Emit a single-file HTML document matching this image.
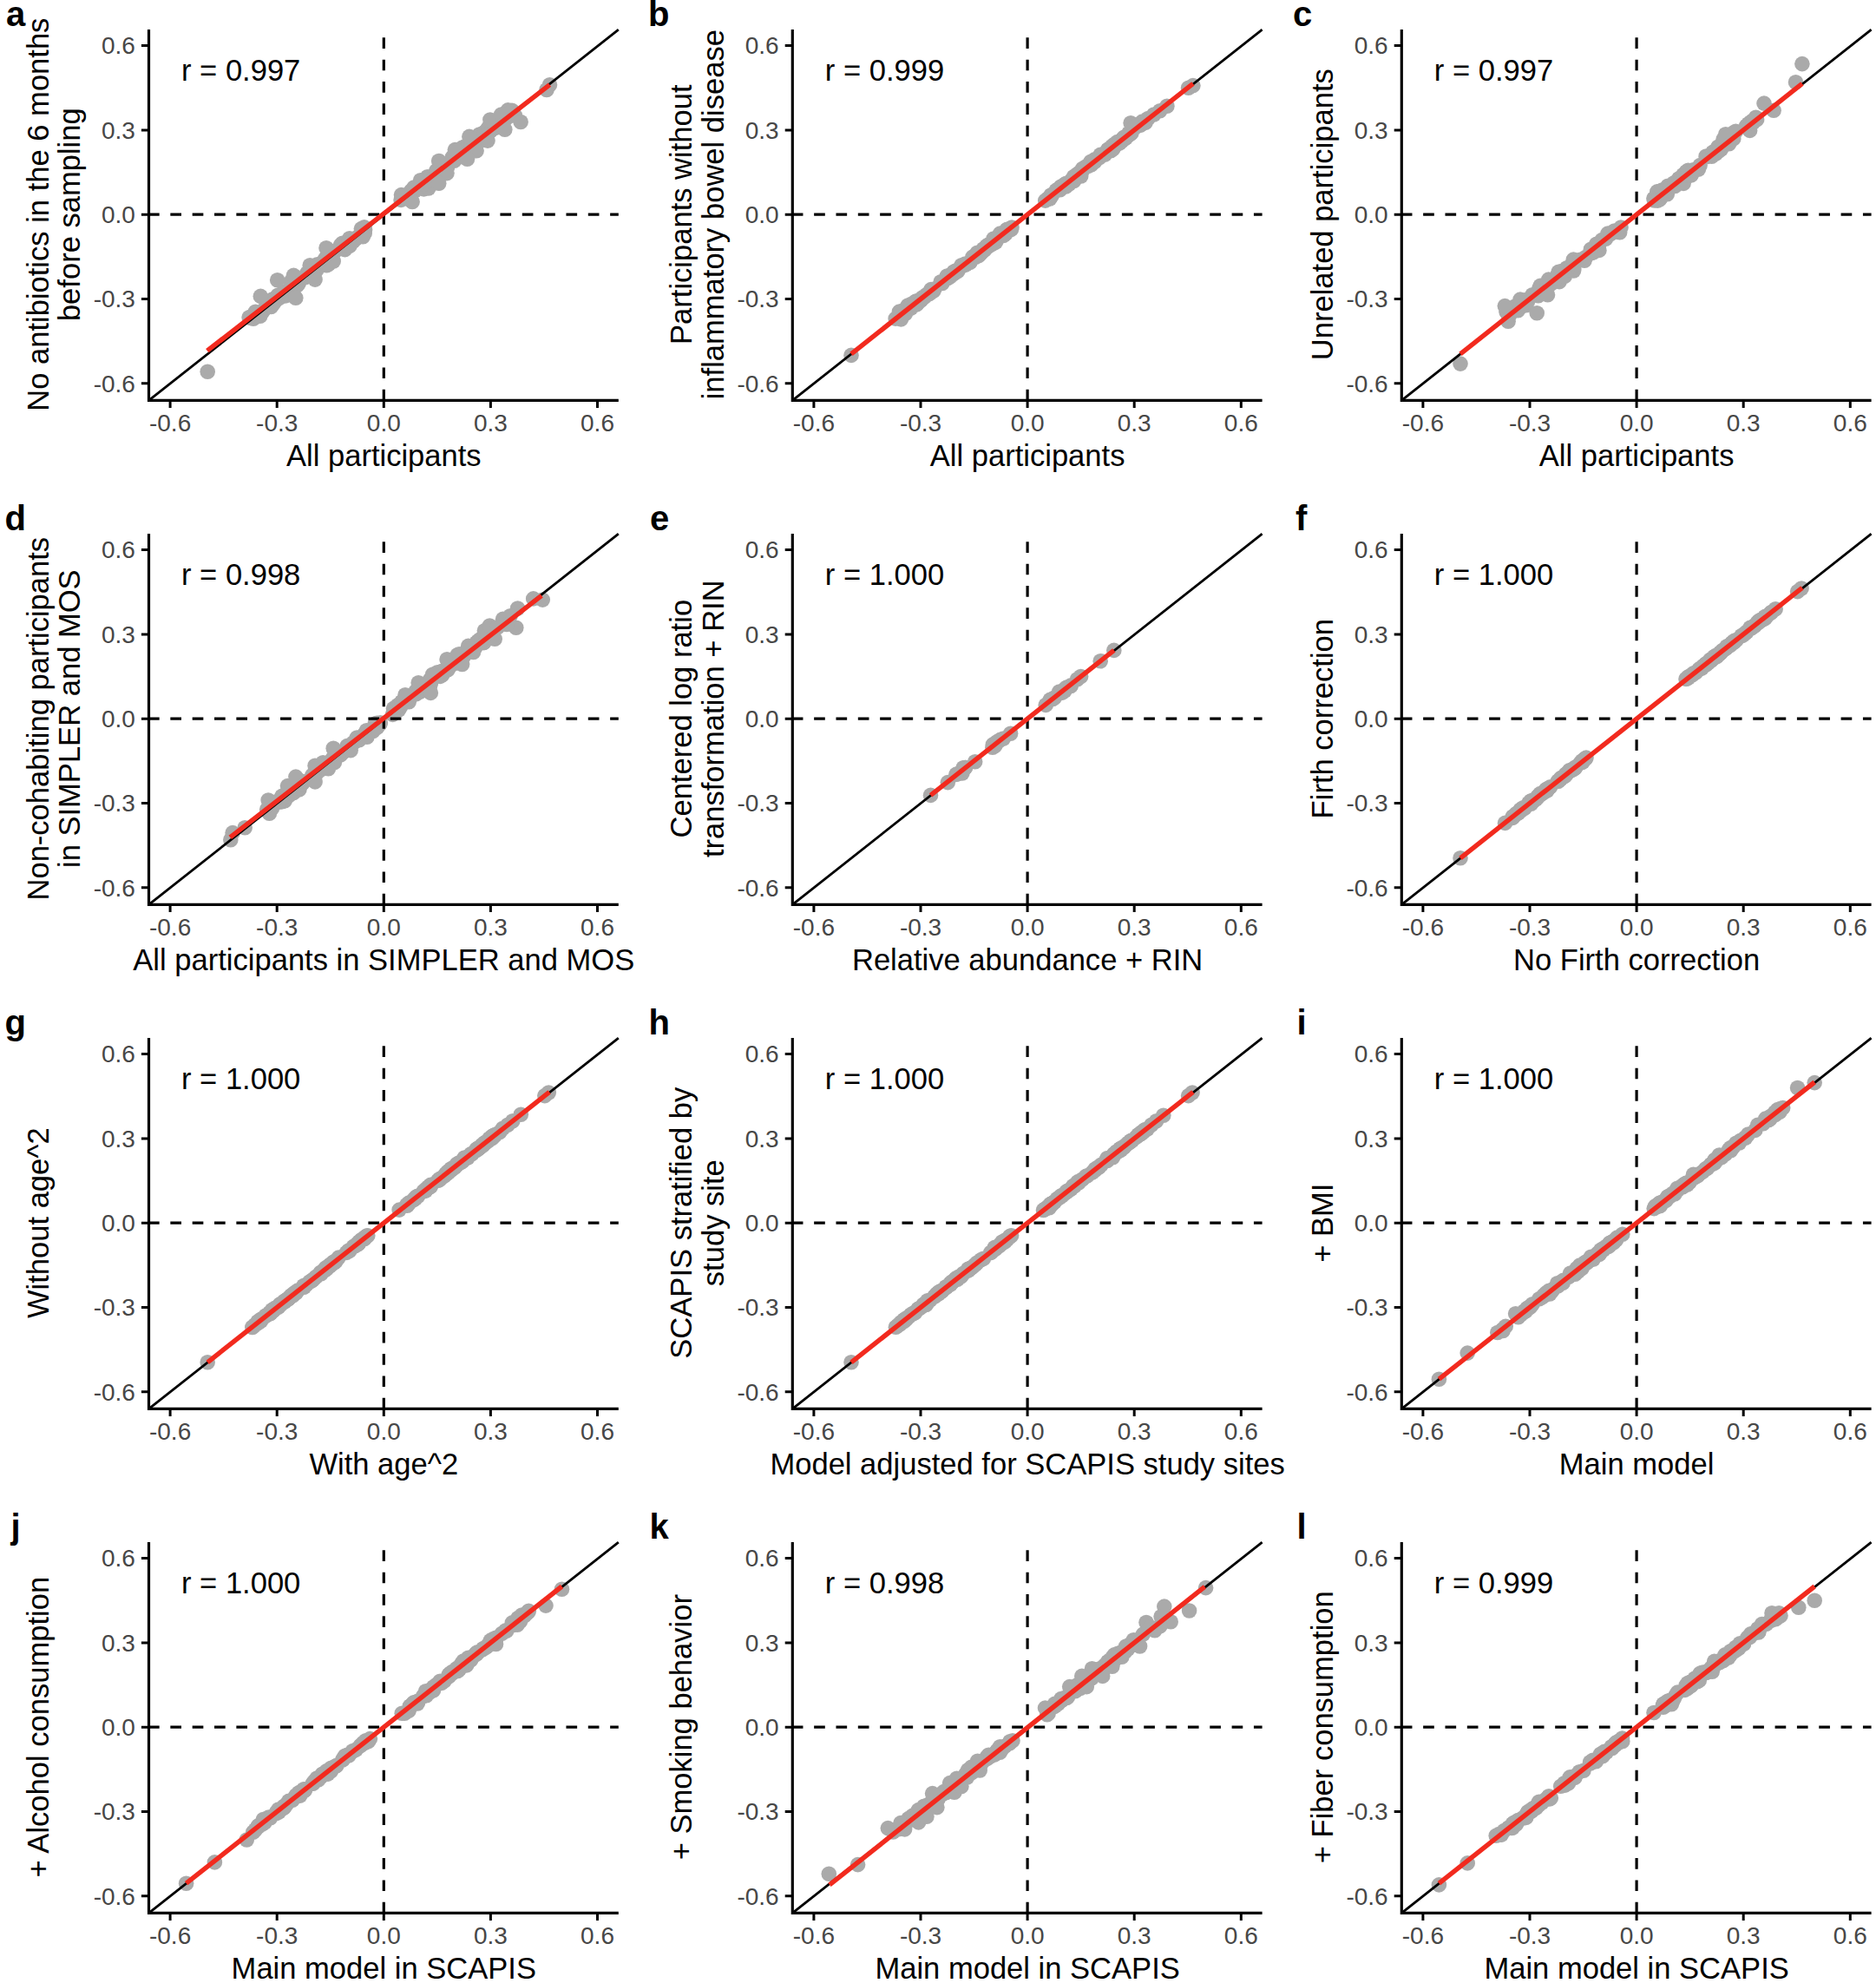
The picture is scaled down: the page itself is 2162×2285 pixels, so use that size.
<!DOCTYPE html>
<html lang="en">
<head>
<meta charset="utf-8">
<title>Sensitivity analyses scatter plots</title>
<style>
html,body{margin:0;padding:0;background:#fff;}
body{width:2162px;height:2285px;overflow:hidden;}
svg{display:block;font-family:"Liberation Sans",sans-serif;}
.lt{font-size:40px;font-weight:bold;fill:#000;}
.tt{font-size:34.55px;fill:#000;}
.tl{font-size:28px;fill:#474747;}
.dg{stroke:#000;stroke-width:2.8;}
.ds{stroke:#000;stroke-width:3.2;stroke-dasharray:12.67 12.67;}
.pt circle{fill:#aaa;}
.rd{stroke:#f22a1e;stroke-width:5.5;}
.ax{fill:none;stroke:#000;stroke-width:3.2;stroke-linejoin:miter;stroke-linecap:butt;}
.tk{fill:none;stroke:#000;stroke-width:3;}
</style>
</head>
<body>
<svg width="2162" height="2285" viewBox="0 0 2162 2285">
<rect width="100%" height="100%" fill="#fff"/>
<g class="panel">
<text class="lt" x="7.0" y="29.6">a</text>
<g class="pt"><circle cx="287.1" cy="365.8" r="8.8"/><circle cx="288.9" cy="366.2" r="8.8"/><circle cx="291.9" cy="367.2" r="8.8"/><circle cx="295.1" cy="364.7" r="8.8"/><circle cx="296.0" cy="363.7" r="8.8"/><circle cx="294.4" cy="359.2" r="8.8"/><circle cx="302.6" cy="359.0" r="8.8"/><circle cx="303.1" cy="358.3" r="8.8"/><circle cx="306.3" cy="353.6" r="8.8"/><circle cx="309.8" cy="352.4" r="8.8"/><circle cx="310.0" cy="352.4" r="8.8"/><circle cx="312.4" cy="353.5" r="8.8"/><circle cx="310.9" cy="351.2" r="8.8"/><circle cx="316.0" cy="348.5" r="8.8"/><circle cx="313.8" cy="345.0" r="8.8"/><circle cx="316.7" cy="344.4" r="8.8"/><circle cx="318.2" cy="345.4" r="8.8"/><circle cx="318.1" cy="343.3" r="8.8"/><circle cx="322.0" cy="343.4" r="8.8"/><circle cx="320.2" cy="340.3" r="8.8"/><circle cx="323.4" cy="341.3" r="8.8"/><circle cx="323.8" cy="339.0" r="8.8"/><circle cx="329.1" cy="340.9" r="8.8"/><circle cx="328.6" cy="336.0" r="8.8"/><circle cx="332.8" cy="339.2" r="8.8"/><circle cx="333.9" cy="339.5" r="8.8"/><circle cx="333.0" cy="334.6" r="8.8"/><circle cx="339.2" cy="331.6" r="8.8"/><circle cx="338.2" cy="329.0" r="8.8"/><circle cx="335.2" cy="324.6" r="8.8"/><circle cx="342.6" cy="328.7" r="8.8"/><circle cx="344.1" cy="326.8" r="8.8"/><circle cx="347.4" cy="321.5" r="8.8"/><circle cx="347.5" cy="320.6" r="8.8"/><circle cx="351.6" cy="319.5" r="8.8"/><circle cx="351.9" cy="319.3" r="8.8"/><circle cx="353.9" cy="314.8" r="8.8"/><circle cx="355.3" cy="314.3" r="8.8"/><circle cx="358.9" cy="316.5" r="8.8"/><circle cx="357.2" cy="314.8" r="8.8"/><circle cx="357.5" cy="314.1" r="8.8"/><circle cx="359.9" cy="315.8" r="8.8"/><circle cx="360.6" cy="310.9" r="8.8"/><circle cx="364.6" cy="311.5" r="8.8"/><circle cx="365.6" cy="304.7" r="8.8"/><circle cx="368.3" cy="305.1" r="8.8"/><circle cx="369.4" cy="304.5" r="8.8"/><circle cx="371.8" cy="304.9" r="8.8"/><circle cx="372.1" cy="303.1" r="8.8"/><circle cx="376.4" cy="305.8" r="8.8"/><circle cx="375.1" cy="304.0" r="8.8"/><circle cx="373.2" cy="300.6" r="8.8"/><circle cx="378.6" cy="304.5" r="8.8"/><circle cx="375.4" cy="297.3" r="8.8"/><circle cx="382.0" cy="300.5" r="8.8"/><circle cx="377.5" cy="296.0" r="8.8"/><circle cx="382.8" cy="297.0" r="8.8"/><circle cx="386.1" cy="289.1" r="8.8"/><circle cx="391.9" cy="286.6" r="8.8"/><circle cx="397.5" cy="287.6" r="8.8"/><circle cx="392.4" cy="282.6" r="8.8"/><circle cx="394.6" cy="280.3" r="8.8"/><circle cx="398.3" cy="282.2" r="8.8"/><circle cx="399.9" cy="281.6" r="8.8"/><circle cx="401.9" cy="279.6" r="8.8"/><circle cx="406.8" cy="278.4" r="8.8"/><circle cx="402.8" cy="274.8" r="8.8"/><circle cx="406.3" cy="277.5" r="8.8"/><circle cx="406.1" cy="276.0" r="8.8"/><circle cx="409.8" cy="275.4" r="8.8"/><circle cx="412.1" cy="273.1" r="8.8"/><circle cx="420.2" cy="268.9" r="8.8"/><circle cx="416.4" cy="263.6" r="8.8"/><circle cx="420.6" cy="264.8" r="8.8"/><circle cx="419.8" cy="261.9" r="8.8"/><circle cx="462.1" cy="230.4" r="8.8"/><circle cx="464.8" cy="228.3" r="8.8"/><circle cx="462.5" cy="224.6" r="8.8"/><circle cx="470.6" cy="229.3" r="8.8"/><circle cx="466.0" cy="225.5" r="8.8"/><circle cx="468.9" cy="226.4" r="8.8"/><circle cx="469.3" cy="225.9" r="8.8"/><circle cx="472.2" cy="228.2" r="8.8"/><circle cx="471.6" cy="225.5" r="8.8"/><circle cx="473.5" cy="220.1" r="8.8"/><circle cx="477.3" cy="219.8" r="8.8"/><circle cx="477.0" cy="219.5" r="8.8"/><circle cx="477.8" cy="220.1" r="8.8"/><circle cx="476.9" cy="216.1" r="8.8"/><circle cx="483.4" cy="214.8" r="8.8"/><circle cx="488.4" cy="217.9" r="8.8"/><circle cx="487.6" cy="213.6" r="8.8"/><circle cx="490.7" cy="215.3" r="8.8"/><circle cx="493.8" cy="217.0" r="8.8"/><circle cx="489.0" cy="212.0" r="8.8"/><circle cx="485.9" cy="208.4" r="8.8"/><circle cx="489.8" cy="209.5" r="8.8"/><circle cx="496.8" cy="207.9" r="8.8"/><circle cx="496.7" cy="207.3" r="8.8"/><circle cx="492.6" cy="203.7" r="8.8"/><circle cx="501.5" cy="199.9" r="8.8"/><circle cx="502.2" cy="199.7" r="8.8"/><circle cx="502.8" cy="199.5" r="8.8"/><circle cx="503.2" cy="198.9" r="8.8"/><circle cx="502.8" cy="196.8" r="8.8"/><circle cx="504.0" cy="196.6" r="8.8"/><circle cx="505.4" cy="196.6" r="8.8"/><circle cx="515.6" cy="192.6" r="8.8"/><circle cx="514.1" cy="188.8" r="8.8"/><circle cx="523.5" cy="185.2" r="8.8"/><circle cx="521.5" cy="181.0" r="8.8"/><circle cx="532.0" cy="180.4" r="8.8"/><circle cx="531.6" cy="177.1" r="8.8"/><circle cx="535.0" cy="174.0" r="8.8"/><circle cx="538.5" cy="175.4" r="8.8"/><circle cx="532.3" cy="170.4" r="8.8"/><circle cx="534.9" cy="169.2" r="8.8"/><circle cx="539.4" cy="171.9" r="8.8"/><circle cx="538.0" cy="169.0" r="8.8"/><circle cx="539.5" cy="169.1" r="8.8"/><circle cx="545.9" cy="173.8" r="8.8"/><circle cx="542.0" cy="167.6" r="8.8"/><circle cx="542.8" cy="167.9" r="8.8"/><circle cx="542.7" cy="167.5" r="8.8"/><circle cx="545.4" cy="169.2" r="8.8"/><circle cx="544.2" cy="167.5" r="8.8"/><circle cx="544.4" cy="167.0" r="8.8"/><circle cx="544.1" cy="162.9" r="8.8"/><circle cx="546.0" cy="164.1" r="8.8"/><circle cx="546.9" cy="164.5" r="8.8"/><circle cx="545.7" cy="160.5" r="8.8"/><circle cx="550.2" cy="163.7" r="8.8"/><circle cx="554.8" cy="159.5" r="8.8"/><circle cx="558.4" cy="161.3" r="8.8"/><circle cx="552.4" cy="155.0" r="8.8"/><circle cx="558.0" cy="152.6" r="8.8"/><circle cx="558.5" cy="152.4" r="8.8"/><circle cx="562.8" cy="149.7" r="8.8"/><circle cx="564.0" cy="150.6" r="8.8"/><circle cx="564.3" cy="150.0" r="8.8"/><circle cx="565.3" cy="150.7" r="8.8"/><circle cx="565.4" cy="150.5" r="8.8"/><circle cx="565.2" cy="149.8" r="8.8"/><circle cx="562.9" cy="146.9" r="8.8"/><circle cx="565.4" cy="148.1" r="8.8"/><circle cx="567.7" cy="148.2" r="8.8"/><circle cx="570.9" cy="147.4" r="8.8"/><circle cx="572.7" cy="146.1" r="8.8"/><circle cx="569.3" cy="141.6" r="8.8"/><circle cx="572.1" cy="142.9" r="8.8"/><circle cx="574.3" cy="142.6" r="8.8"/><circle cx="575.8" cy="142.8" r="8.8"/><circle cx="578.7" cy="143.0" r="8.8"/><circle cx="579.1" cy="139.2" r="8.8"/><circle cx="577.5" cy="137.5" r="8.8"/><circle cx="580.1" cy="139.5" r="8.8"/><circle cx="582.6" cy="137.0" r="8.8"/><circle cx="585.4" cy="134.8" r="8.8"/><circle cx="584.9" cy="134.1" r="8.8"/><circle cx="593.3" cy="133.0" r="8.8"/><circle cx="239.2" cy="428.2" r="8.8"/><circle cx="633.5" cy="97.7" r="8.8"/><circle cx="630.0" cy="103.5" r="8.8"/><circle cx="600.1" cy="140.5" r="8.8"/><circle cx="564.9" cy="138.0" r="8.8"/><circle cx="585.4" cy="126.9" r="8.8"/><circle cx="581.8" cy="149.2" r="8.8"/><circle cx="562.0" cy="162.1" r="8.8"/><circle cx="540.9" cy="157.4" r="8.8"/><circle cx="549.1" cy="173.8" r="8.8"/><circle cx="524.4" cy="172.6" r="8.8"/><circle cx="505.7" cy="185.5" r="8.8"/><circle cx="538.5" cy="183.2" r="8.8"/><circle cx="515.0" cy="199.6" r="8.8"/><circle cx="505.7" cy="211.3" r="8.8"/><circle cx="484.6" cy="207.8" r="8.8"/><circle cx="475.1" cy="232.5" r="8.8"/><circle cx="463.5" cy="226.6" r="8.8"/><circle cx="577.7" cy="132.0" r="8.8"/><circle cx="590.0" cy="127.2" r="8.8"/><circle cx="300.3" cy="341.4" r="8.8"/><circle cx="319.7" cy="322.7" r="8.8"/><circle cx="338.4" cy="317.4" r="8.8"/><circle cx="340.8" cy="343.2" r="8.8"/><circle cx="376.0" cy="285.7" r="8.8"/><circle cx="363.1" cy="322.1" r="8.8"/><circle cx="384.2" cy="301.0" r="8.8"/><circle cx="402.9" cy="283.4" r="8.8"/><circle cx="419.4" cy="263.5" r="8.8"/><circle cx="418.2" cy="272.8" r="8.8"/><circle cx="290.4" cy="364.3" r="8.8"/><circle cx="299.7" cy="364.3" r="8.8"/><circle cx="313.9" cy="351.4" r="8.8"/><circle cx="357.2" cy="305.7" r="8.8"/></g>
<line class="dg" x1="171.5" y1="461.4" x2="712.8" y2="34.1"/>
<line class="ds" x1="171.0" y1="247.2" x2="712.8" y2="247.2"/>
<line class="ds" x1="442.3" y1="461.4" x2="442.3" y2="34.1"/>
<line class="rd" x1="238.8" y1="404.2" x2="633.5" y2="97.7"/>
<path class="ax" d="M171.5 34.1V461.4H712.8"/>
<path class="tk" d="M196.1 461.4v8.6M171.5 441.8h-8.6M319.2 461.4v8.6M171.5 344.5h-8.6M442.3 461.4v8.6M171.5 247.2h-8.6M565.4 461.4v8.6M171.5 149.9h-8.6M688.5 461.4v8.6M171.5 52.6h-8.6"/>
<text class="tl" text-anchor="middle" x="196.1" y="497.0">-0.6</text>
<text class="tl" text-anchor="end" x="155.9" y="451.6">-0.6</text>
<text class="tl" text-anchor="middle" x="319.2" y="497.0">-0.3</text>
<text class="tl" text-anchor="end" x="155.9" y="354.3">-0.3</text>
<text class="tl" text-anchor="middle" x="442.3" y="497.0">0.0</text>
<text class="tl" text-anchor="end" x="155.9" y="257.0">0.0</text>
<text class="tl" text-anchor="middle" x="565.4" y="497.0">0.3</text>
<text class="tl" text-anchor="end" x="155.9" y="159.7">0.3</text>
<text class="tl" text-anchor="middle" x="688.5" y="497.0">0.6</text>
<text class="tl" text-anchor="end" x="155.9" y="62.4">0.6</text>
<text class="tt" x="209.0" y="93.4">r = 0.997</text>
<text class="tt" text-anchor="middle" x="442.3" y="536.8">All participants</text>
<text class="tt" text-anchor="middle" transform="translate(55.5 247.2) rotate(-90)">No antibiotics in the 6 months</text>
<text class="tt" text-anchor="middle" transform="translate(92.0 247.2) rotate(-90)">before sampling</text>
</g>
<g class="panel">
<text class="lt" x="747.0" y="29.6">b</text>
<g class="pt"><circle cx="1032.1" cy="367.1" r="8.8"/><circle cx="1037.9" cy="364.7" r="8.8"/><circle cx="1038.6" cy="363.7" r="8.8"/><circle cx="1039.0" cy="360.6" r="8.8"/><circle cx="1040.7" cy="359.9" r="8.8"/><circle cx="1043.3" cy="361.6" r="8.8"/><circle cx="1043.1" cy="356.5" r="8.8"/><circle cx="1043.9" cy="357.1" r="8.8"/><circle cx="1046.0" cy="354.2" r="8.8"/><circle cx="1048.3" cy="355.2" r="8.8"/><circle cx="1049.0" cy="354.5" r="8.8"/><circle cx="1049.9" cy="355.1" r="8.8"/><circle cx="1046.3" cy="352.0" r="8.8"/><circle cx="1050.6" cy="353.0" r="8.8"/><circle cx="1050.4" cy="350.3" r="8.8"/><circle cx="1053.6" cy="351.4" r="8.8"/><circle cx="1054.2" cy="349.6" r="8.8"/><circle cx="1056.4" cy="350.9" r="8.8"/><circle cx="1056.2" cy="349.0" r="8.8"/><circle cx="1054.9" cy="347.8" r="8.8"/><circle cx="1057.5" cy="349.3" r="8.8"/><circle cx="1055.7" cy="347.0" r="8.8"/><circle cx="1057.4" cy="346.9" r="8.8"/><circle cx="1061.1" cy="346.2" r="8.8"/><circle cx="1061.8" cy="344.7" r="8.8"/><circle cx="1063.1" cy="343.6" r="8.8"/><circle cx="1063.1" cy="342.9" r="8.8"/><circle cx="1064.4" cy="342.7" r="8.8"/><circle cx="1066.0" cy="341.9" r="8.8"/><circle cx="1068.1" cy="339.4" r="8.8"/><circle cx="1070.9" cy="338.3" r="8.8"/><circle cx="1071.3" cy="338.4" r="8.8"/><circle cx="1072.6" cy="335.5" r="8.8"/><circle cx="1073.0" cy="333.6" r="8.8"/><circle cx="1075.7" cy="335.4" r="8.8"/><circle cx="1074.3" cy="334.0" r="8.8"/><circle cx="1076.9" cy="333.0" r="8.8"/><circle cx="1085.8" cy="326.5" r="8.8"/><circle cx="1084.2" cy="324.8" r="8.8"/><circle cx="1092.3" cy="320.6" r="8.8"/><circle cx="1091.4" cy="318.0" r="8.8"/><circle cx="1095.1" cy="318.8" r="8.8"/><circle cx="1095.0" cy="317.0" r="8.8"/><circle cx="1097.1" cy="316.4" r="8.8"/><circle cx="1099.4" cy="315.4" r="8.8"/><circle cx="1098.8" cy="313.7" r="8.8"/><circle cx="1100.0" cy="314.0" r="8.8"/><circle cx="1100.3" cy="312.5" r="8.8"/><circle cx="1101.2" cy="312.8" r="8.8"/><circle cx="1103.7" cy="312.6" r="8.8"/><circle cx="1103.9" cy="310.8" r="8.8"/><circle cx="1108.9" cy="306.6" r="8.8"/><circle cx="1108.0" cy="305.8" r="8.8"/><circle cx="1112.8" cy="305.1" r="8.8"/><circle cx="1112.3" cy="304.0" r="8.8"/><circle cx="1117.9" cy="302.4" r="8.8"/><circle cx="1120.9" cy="296.1" r="8.8"/><circle cx="1124.3" cy="296.3" r="8.8"/><circle cx="1127.9" cy="294.6" r="8.8"/><circle cx="1126.7" cy="292.7" r="8.8"/><circle cx="1126.2" cy="291.2" r="8.8"/><circle cx="1129.8" cy="292.6" r="8.8"/><circle cx="1131.5" cy="290.5" r="8.8"/><circle cx="1133.1" cy="288.7" r="8.8"/><circle cx="1134.3" cy="288.4" r="8.8"/><circle cx="1133.4" cy="286.7" r="8.8"/><circle cx="1134.6" cy="287.6" r="8.8"/><circle cx="1135.6" cy="286.7" r="8.8"/><circle cx="1137.1" cy="283.4" r="8.8"/><circle cx="1140.0" cy="283.3" r="8.8"/><circle cx="1139.0" cy="282.1" r="8.8"/><circle cx="1143.3" cy="281.0" r="8.8"/><circle cx="1144.1" cy="280.8" r="8.8"/><circle cx="1147.5" cy="279.1" r="8.8"/><circle cx="1145.1" cy="275.0" r="8.8"/><circle cx="1149.1" cy="275.4" r="8.8"/><circle cx="1149.5" cy="274.2" r="8.8"/><circle cx="1150.8" cy="273.6" r="8.8"/><circle cx="1154.1" cy="270.7" r="8.8"/><circle cx="1154.2" cy="270.7" r="8.8"/><circle cx="1152.5" cy="269.1" r="8.8"/><circle cx="1156.0" cy="271.1" r="8.8"/><circle cx="1156.6" cy="271.4" r="8.8"/><circle cx="1158.2" cy="269.3" r="8.8"/><circle cx="1159.2" cy="269.0" r="8.8"/><circle cx="1160.3" cy="264.8" r="8.8"/><circle cx="1160.8" cy="264.3" r="8.8"/><circle cx="1163.9" cy="264.7" r="8.8"/><circle cx="1165.4" cy="264.2" r="8.8"/><circle cx="1166.0" cy="262.1" r="8.8"/><circle cx="1204.7" cy="231.1" r="8.8"/><circle cx="1207.9" cy="228.7" r="8.8"/><circle cx="1209.8" cy="229.0" r="8.8"/><circle cx="1211.2" cy="226.9" r="8.8"/><circle cx="1210.9" cy="225.3" r="8.8"/><circle cx="1211.6" cy="224.8" r="8.8"/><circle cx="1212.5" cy="224.5" r="8.8"/><circle cx="1217.2" cy="219.4" r="8.8"/><circle cx="1221.6" cy="218.8" r="8.8"/><circle cx="1221.0" cy="218.1" r="8.8"/><circle cx="1220.3" cy="217.4" r="8.8"/><circle cx="1220.9" cy="217.2" r="8.8"/><circle cx="1222.7" cy="215.0" r="8.8"/><circle cx="1223.6" cy="215.3" r="8.8"/><circle cx="1224.6" cy="215.7" r="8.8"/><circle cx="1224.9" cy="214.3" r="8.8"/><circle cx="1227.5" cy="214.5" r="8.8"/><circle cx="1228.2" cy="215.0" r="8.8"/><circle cx="1227.3" cy="212.1" r="8.8"/><circle cx="1228.6" cy="212.1" r="8.8"/><circle cx="1228.5" cy="211.6" r="8.8"/><circle cx="1231.8" cy="212.2" r="8.8"/><circle cx="1234.3" cy="208.1" r="8.8"/><circle cx="1235.7" cy="207.4" r="8.8"/><circle cx="1236.1" cy="207.5" r="8.8"/><circle cx="1237.6" cy="208.5" r="8.8"/><circle cx="1237.0" cy="205.9" r="8.8"/><circle cx="1237.4" cy="203.6" r="8.8"/><circle cx="1238.6" cy="203.5" r="8.8"/><circle cx="1241.6" cy="202.7" r="8.8"/><circle cx="1242.1" cy="201.3" r="8.8"/><circle cx="1241.5" cy="200.6" r="8.8"/><circle cx="1245.7" cy="203.0" r="8.8"/><circle cx="1244.7" cy="199.5" r="8.8"/><circle cx="1245.0" cy="198.2" r="8.8"/><circle cx="1248.3" cy="195.3" r="8.8"/><circle cx="1247.7" cy="194.2" r="8.8"/><circle cx="1251.8" cy="191.8" r="8.8"/><circle cx="1254.0" cy="191.4" r="8.8"/><circle cx="1254.6" cy="190.9" r="8.8"/><circle cx="1255.9" cy="189.2" r="8.8"/><circle cx="1257.7" cy="189.9" r="8.8"/><circle cx="1257.6" cy="189.1" r="8.8"/><circle cx="1258.2" cy="187.2" r="8.8"/><circle cx="1257.1" cy="186.3" r="8.8"/><circle cx="1261.2" cy="186.5" r="8.8"/><circle cx="1261.4" cy="186.2" r="8.8"/><circle cx="1262.5" cy="184.9" r="8.8"/><circle cx="1261.5" cy="183.9" r="8.8"/><circle cx="1267.1" cy="181.6" r="8.8"/><circle cx="1268.1" cy="178.4" r="8.8"/><circle cx="1273.4" cy="178.1" r="8.8"/><circle cx="1276.2" cy="174.7" r="8.8"/><circle cx="1277.1" cy="174.0" r="8.8"/><circle cx="1276.6" cy="172.8" r="8.8"/><circle cx="1277.0" cy="172.1" r="8.8"/><circle cx="1280.0" cy="173.8" r="8.8"/><circle cx="1280.6" cy="172.4" r="8.8"/><circle cx="1280.1" cy="170.8" r="8.8"/><circle cx="1281.4" cy="171.3" r="8.8"/><circle cx="1282.7" cy="171.7" r="8.8"/><circle cx="1281.7" cy="168.4" r="8.8"/><circle cx="1283.0" cy="168.2" r="8.8"/><circle cx="1283.4" cy="167.9" r="8.8"/><circle cx="1284.6" cy="168.5" r="8.8"/><circle cx="1284.3" cy="166.3" r="8.8"/><circle cx="1286.1" cy="166.9" r="8.8"/><circle cx="1287.6" cy="163.6" r="8.8"/><circle cx="1290.0" cy="165.0" r="8.8"/><circle cx="1292.7" cy="162.7" r="8.8"/><circle cx="1293.7" cy="160.2" r="8.8"/><circle cx="1296.7" cy="159.3" r="8.8"/><circle cx="1295.3" cy="158.2" r="8.8"/><circle cx="1296.0" cy="158.3" r="8.8"/><circle cx="1297.4" cy="159.1" r="8.8"/><circle cx="1296.4" cy="158.3" r="8.8"/><circle cx="1299.3" cy="156.7" r="8.8"/><circle cx="1300.9" cy="153.4" r="8.8"/><circle cx="1302.5" cy="154.6" r="8.8"/><circle cx="1303.9" cy="153.2" r="8.8"/><circle cx="1308.8" cy="146.6" r="8.8"/><circle cx="1308.6" cy="145.1" r="8.8"/><circle cx="1311.4" cy="143.3" r="8.8"/><circle cx="1314.4" cy="144.1" r="8.8"/><circle cx="1314.3" cy="143.9" r="8.8"/><circle cx="1316.4" cy="140.1" r="8.8"/><circle cx="1318.2" cy="141.4" r="8.8"/><circle cx="1320.0" cy="141.3" r="8.8"/><circle cx="1319.0" cy="140.4" r="8.8"/><circle cx="1323.1" cy="136.5" r="8.8"/><circle cx="981.0" cy="409.4" r="8.8"/><circle cx="1374.9" cy="98.6" r="8.8"/><circle cx="1369.6" cy="101.2" r="8.8"/><circle cx="1038.4" cy="367.9" r="8.8"/><circle cx="1303.1" cy="141.8" r="8.8"/><circle cx="1329.8" cy="132.0" r="8.8"/><circle cx="1336.7" cy="127.8" r="8.8"/><circle cx="1344.9" cy="122.3" r="8.8"/><circle cx="1307.2" cy="146.6" r="8.8"/><circle cx="1036.4" cy="359.1" r="8.8"/></g>
<line class="dg" x1="913.3" y1="461.4" x2="1454.6" y2="34.1"/>
<line class="ds" x1="912.8" y1="247.2" x2="1454.6" y2="247.2"/>
<line class="ds" x1="1184.1" y1="461.4" x2="1184.1" y2="34.1"/>
<line class="rd" x1="981.0" y1="407.8" x2="1374.9" y2="96.4"/>
<path class="ax" d="M913.3 34.1V461.4H1454.6"/>
<path class="tk" d="M937.9 461.4v8.6M913.3 441.8h-8.6M1061.0 461.4v8.6M913.3 344.5h-8.6M1184.1 461.4v8.6M913.3 247.2h-8.6M1307.2 461.4v8.6M913.3 149.9h-8.6M1430.3 461.4v8.6M913.3 52.6h-8.6"/>
<text class="tl" text-anchor="middle" x="937.9" y="497.0">-0.6</text>
<text class="tl" text-anchor="end" x="897.7" y="451.6">-0.6</text>
<text class="tl" text-anchor="middle" x="1061.0" y="497.0">-0.3</text>
<text class="tl" text-anchor="end" x="897.7" y="354.3">-0.3</text>
<text class="tl" text-anchor="middle" x="1184.1" y="497.0">0.0</text>
<text class="tl" text-anchor="end" x="897.7" y="257.0">0.0</text>
<text class="tl" text-anchor="middle" x="1307.2" y="497.0">0.3</text>
<text class="tl" text-anchor="end" x="897.7" y="159.7">0.3</text>
<text class="tl" text-anchor="middle" x="1430.3" y="497.0">0.6</text>
<text class="tl" text-anchor="end" x="897.7" y="62.4">0.6</text>
<text class="tt" x="950.8" y="93.4">r = 0.999</text>
<text class="tt" text-anchor="middle" x="1184.1" y="536.8">All participants</text>
<text class="tt" text-anchor="middle" transform="translate(797.3 247.2) rotate(-90)">Participants without</text>
<text class="tt" text-anchor="middle" transform="translate(833.8 247.2) rotate(-90)">inflammatory bowel disease</text>
</g>
<g class="panel">
<text class="lt" x="1490.0" y="29.6">c</text>
<g class="pt"><circle cx="1738.1" cy="370.2" r="8.8"/><circle cx="1739.9" cy="362.9" r="8.8"/><circle cx="1736.0" cy="359.3" r="8.8"/><circle cx="1736.8" cy="358.2" r="8.8"/><circle cx="1740.7" cy="357.5" r="8.8"/><circle cx="1743.6" cy="357.3" r="8.8"/><circle cx="1749.3" cy="357.8" r="8.8"/><circle cx="1745.3" cy="353.4" r="8.8"/><circle cx="1749.9" cy="355.1" r="8.8"/><circle cx="1752.5" cy="353.1" r="8.8"/><circle cx="1753.5" cy="353.1" r="8.8"/><circle cx="1752.9" cy="352.2" r="8.8"/><circle cx="1755.7" cy="351.8" r="8.8"/><circle cx="1756.1" cy="350.3" r="8.8"/><circle cx="1758.8" cy="351.7" r="8.8"/><circle cx="1757.3" cy="350.4" r="8.8"/><circle cx="1752.0" cy="345.1" r="8.8"/><circle cx="1757.6" cy="349.0" r="8.8"/><circle cx="1760.5" cy="347.4" r="8.8"/><circle cx="1759.5" cy="345.4" r="8.8"/><circle cx="1766.0" cy="339.7" r="8.8"/><circle cx="1772.8" cy="340.7" r="8.8"/><circle cx="1772.7" cy="337.6" r="8.8"/><circle cx="1773.7" cy="332.8" r="8.8"/><circle cx="1776.3" cy="333.0" r="8.8"/><circle cx="1777.2" cy="332.9" r="8.8"/><circle cx="1775.1" cy="329.4" r="8.8"/><circle cx="1783.0" cy="331.2" r="8.8"/><circle cx="1783.7" cy="327.8" r="8.8"/><circle cx="1787.8" cy="326.8" r="8.8"/><circle cx="1784.7" cy="322.1" r="8.8"/><circle cx="1797.1" cy="324.6" r="8.8"/><circle cx="1796.2" cy="320.6" r="8.8"/><circle cx="1796.3" cy="320.1" r="8.8"/><circle cx="1795.4" cy="316.5" r="8.8"/><circle cx="1795.5" cy="316.6" r="8.8"/><circle cx="1796.1" cy="313.4" r="8.8"/><circle cx="1803.3" cy="318.3" r="8.8"/><circle cx="1800.3" cy="312.3" r="8.8"/><circle cx="1804.8" cy="312.5" r="8.8"/><circle cx="1808.0" cy="311.3" r="8.8"/><circle cx="1805.7" cy="308.8" r="8.8"/><circle cx="1809.8" cy="310.8" r="8.8"/><circle cx="1813.5" cy="312.0" r="8.8"/><circle cx="1810.8" cy="308.0" r="8.8"/><circle cx="1813.8" cy="309.7" r="8.8"/><circle cx="1813.0" cy="307.3" r="8.8"/><circle cx="1811.2" cy="305.1" r="8.8"/><circle cx="1812.2" cy="304.5" r="8.8"/><circle cx="1813.3" cy="299.1" r="8.8"/><circle cx="1821.0" cy="299.4" r="8.8"/><circle cx="1826.0" cy="300.2" r="8.8"/><circle cx="1827.6" cy="296.2" r="8.8"/><circle cx="1834.2" cy="291.5" r="8.8"/><circle cx="1836.4" cy="290.8" r="8.8"/><circle cx="1833.4" cy="287.3" r="8.8"/><circle cx="1836.1" cy="289.1" r="8.8"/><circle cx="1842.9" cy="288.4" r="8.8"/><circle cx="1839.8" cy="281.3" r="8.8"/><circle cx="1842.3" cy="282.2" r="8.8"/><circle cx="1842.4" cy="280.5" r="8.8"/><circle cx="1843.1" cy="280.8" r="8.8"/><circle cx="1846.1" cy="276.6" r="8.8"/><circle cx="1850.4" cy="275.3" r="8.8"/><circle cx="1852.9" cy="269.1" r="8.8"/><circle cx="1856.2" cy="269.3" r="8.8"/><circle cx="1856.6" cy="269.1" r="8.8"/><circle cx="1860.5" cy="266.0" r="8.8"/><circle cx="1866.7" cy="267.7" r="8.8"/><circle cx="1868.0" cy="262.1" r="8.8"/><circle cx="1906.7" cy="231.0" r="8.8"/><circle cx="1905.9" cy="228.7" r="8.8"/><circle cx="1910.4" cy="231.1" r="8.8"/><circle cx="1910.1" cy="229.0" r="8.8"/><circle cx="1908.6" cy="227.3" r="8.8"/><circle cx="1912.5" cy="229.8" r="8.8"/><circle cx="1910.3" cy="227.5" r="8.8"/><circle cx="1913.0" cy="229.4" r="8.8"/><circle cx="1909.3" cy="225.2" r="8.8"/><circle cx="1909.8" cy="220.9" r="8.8"/><circle cx="1910.9" cy="221.1" r="8.8"/><circle cx="1916.1" cy="224.2" r="8.8"/><circle cx="1914.6" cy="222.3" r="8.8"/><circle cx="1916.7" cy="222.6" r="8.8"/><circle cx="1917.5" cy="222.0" r="8.8"/><circle cx="1915.4" cy="219.0" r="8.8"/><circle cx="1921.3" cy="223.7" r="8.8"/><circle cx="1917.1" cy="219.3" r="8.8"/><circle cx="1921.7" cy="219.2" r="8.8"/><circle cx="1922.1" cy="214.2" r="8.8"/><circle cx="1924.8" cy="216.0" r="8.8"/><circle cx="1930.2" cy="214.5" r="8.8"/><circle cx="1929.9" cy="211.7" r="8.8"/><circle cx="1929.2" cy="210.7" r="8.8"/><circle cx="1930.6" cy="211.9" r="8.8"/><circle cx="1930.0" cy="210.9" r="8.8"/><circle cx="1933.8" cy="211.2" r="8.8"/><circle cx="1940.1" cy="211.4" r="8.8"/><circle cx="1934.9" cy="205.7" r="8.8"/><circle cx="1935.3" cy="206.0" r="8.8"/><circle cx="1937.3" cy="206.3" r="8.8"/><circle cx="1940.6" cy="203.9" r="8.8"/><circle cx="1939.8" cy="201.4" r="8.8"/><circle cx="1943.7" cy="203.1" r="8.8"/><circle cx="1945.9" cy="202.2" r="8.8"/><circle cx="1945.5" cy="200.9" r="8.8"/><circle cx="1943.2" cy="198.2" r="8.8"/><circle cx="1949.1" cy="201.9" r="8.8"/><circle cx="1943.8" cy="197.7" r="8.8"/><circle cx="1947.8" cy="200.5" r="8.8"/><circle cx="1948.8" cy="201.2" r="8.8"/><circle cx="1945.5" cy="196.2" r="8.8"/><circle cx="1951.3" cy="195.9" r="8.8"/><circle cx="1957.4" cy="195.1" r="8.8"/><circle cx="1959.1" cy="190.6" r="8.8"/><circle cx="1966.4" cy="180.7" r="8.8"/><circle cx="1966.2" cy="180.0" r="8.8"/><circle cx="1972.6" cy="180.2" r="8.8"/><circle cx="1971.2" cy="178.6" r="8.8"/><circle cx="1973.9" cy="175.4" r="8.8"/><circle cx="1977.4" cy="177.1" r="8.8"/><circle cx="1976.1" cy="174.9" r="8.8"/><circle cx="1978.2" cy="174.5" r="8.8"/><circle cx="1979.7" cy="174.9" r="8.8"/><circle cx="1980.2" cy="174.4" r="8.8"/><circle cx="1980.0" cy="172.7" r="8.8"/><circle cx="1981.9" cy="171.4" r="8.8"/><circle cx="1983.4" cy="172.1" r="8.8"/><circle cx="1983.2" cy="171.8" r="8.8"/><circle cx="1980.0" cy="169.3" r="8.8"/><circle cx="1982.4" cy="170.4" r="8.8"/><circle cx="1985.3" cy="165.9" r="8.8"/><circle cx="1987.1" cy="163.4" r="8.8"/><circle cx="1989.0" cy="163.9" r="8.8"/><circle cx="1986.0" cy="160.8" r="8.8"/><circle cx="1992.6" cy="165.7" r="8.8"/><circle cx="1995.0" cy="158.5" r="8.8"/><circle cx="1997.8" cy="159.9" r="8.8"/><circle cx="1997.5" cy="153.1" r="8.8"/><circle cx="2000.4" cy="151.3" r="8.8"/><circle cx="2016.6" cy="150.4" r="8.8"/><circle cx="2015.4" cy="148.1" r="8.8"/><circle cx="2012.7" cy="145.0" r="8.8"/><circle cx="2015.3" cy="142.5" r="8.8"/><circle cx="2018.1" cy="140.4" r="8.8"/><circle cx="2020.1" cy="141.5" r="8.8"/><circle cx="2020.0" cy="139.9" r="8.8"/><circle cx="2020.7" cy="138.7" r="8.8"/><circle cx="2024.6" cy="137.9" r="8.8"/><circle cx="2023.5" cy="135.2" r="8.8"/><circle cx="1683.0" cy="419.1" r="8.8"/><circle cx="2076.9" cy="73.6" r="8.8"/><circle cx="2069.5" cy="94.7" r="8.8"/><circle cx="2033.0" cy="119.1" r="8.8"/><circle cx="2044.1" cy="127.2" r="8.8"/><circle cx="1771.2" cy="360.7" r="8.8"/><circle cx="1734.3" cy="352.6" r="8.8"/><circle cx="1783.5" cy="339.7" r="8.8"/><circle cx="1988.7" cy="154.7" r="8.8"/></g>
<line class="dg" x1="1615.3" y1="461.4" x2="2156.6" y2="34.1"/>
<line class="ds" x1="1614.8" y1="247.2" x2="2156.6" y2="247.2"/>
<line class="ds" x1="1886.1" y1="461.4" x2="1886.1" y2="34.1"/>
<line class="rd" x1="1683.0" y1="407.8" x2="2076.9" y2="96.4"/>
<path class="ax" d="M1615.3 34.1V461.4H2156.6"/>
<path class="tk" d="M1639.9 461.4v8.6M1615.3 441.8h-8.6M1763.0 461.4v8.6M1615.3 344.5h-8.6M1886.1 461.4v8.6M1615.3 247.2h-8.6M2009.2 461.4v8.6M1615.3 149.9h-8.6M2132.3 461.4v8.6M1615.3 52.6h-8.6"/>
<text class="tl" text-anchor="middle" x="1639.9" y="497.0">-0.6</text>
<text class="tl" text-anchor="end" x="1599.7" y="451.6">-0.6</text>
<text class="tl" text-anchor="middle" x="1763.0" y="497.0">-0.3</text>
<text class="tl" text-anchor="end" x="1599.7" y="354.3">-0.3</text>
<text class="tl" text-anchor="middle" x="1886.1" y="497.0">0.0</text>
<text class="tl" text-anchor="end" x="1599.7" y="257.0">0.0</text>
<text class="tl" text-anchor="middle" x="2009.2" y="497.0">0.3</text>
<text class="tl" text-anchor="end" x="1599.7" y="159.7">0.3</text>
<text class="tl" text-anchor="middle" x="2132.3" y="497.0">0.6</text>
<text class="tl" text-anchor="end" x="1599.7" y="62.4">0.6</text>
<text class="tt" x="1652.8" y="93.4">r = 0.997</text>
<text class="tt" text-anchor="middle" x="1886.1" y="536.8">All participants</text>
<text class="tt" text-anchor="middle" transform="translate(1535.8 247.2) rotate(-90)">Unrelated participants</text>
</g>
<g class="panel">
<text class="lt" x="5.5" y="610.6">d</text>
<g class="pt"><circle cx="307.7" cy="932.7" r="8.8"/><circle cx="311.9" cy="932.9" r="8.8"/><circle cx="313.5" cy="931.3" r="8.8"/><circle cx="319.0" cy="924.0" r="8.8"/><circle cx="320.0" cy="923.2" r="8.8"/><circle cx="321.9" cy="924.1" r="8.8"/><circle cx="324.3" cy="923.7" r="8.8"/><circle cx="325.5" cy="923.5" r="8.8"/><circle cx="326.0" cy="921.5" r="8.8"/><circle cx="328.2" cy="922.8" r="8.8"/><circle cx="325.3" cy="919.2" r="8.8"/><circle cx="327.3" cy="920.3" r="8.8"/><circle cx="326.0" cy="919.2" r="8.8"/><circle cx="324.9" cy="917.4" r="8.8"/><circle cx="328.2" cy="916.1" r="8.8"/><circle cx="332.9" cy="916.9" r="8.8"/><circle cx="330.7" cy="914.7" r="8.8"/><circle cx="331.8" cy="913.4" r="8.8"/><circle cx="335.6" cy="914.0" r="8.8"/><circle cx="336.2" cy="914.0" r="8.8"/><circle cx="335.5" cy="912.9" r="8.8"/><circle cx="338.3" cy="913.5" r="8.8"/><circle cx="338.8" cy="907.2" r="8.8"/><circle cx="344.9" cy="909.9" r="8.8"/><circle cx="344.2" cy="907.9" r="8.8"/><circle cx="345.8" cy="905.0" r="8.8"/><circle cx="346.4" cy="904.5" r="8.8"/><circle cx="346.1" cy="904.0" r="8.8"/><circle cx="347.3" cy="902.8" r="8.8"/><circle cx="348.9" cy="902.4" r="8.8"/><circle cx="348.4" cy="900.2" r="8.8"/><circle cx="361.7" cy="896.1" r="8.8"/><circle cx="359.6" cy="893.6" r="8.8"/><circle cx="361.1" cy="893.8" r="8.8"/><circle cx="362.1" cy="891.4" r="8.8"/><circle cx="362.9" cy="890.5" r="8.8"/><circle cx="364.5" cy="891.5" r="8.8"/><circle cx="364.7" cy="890.8" r="8.8"/><circle cx="363.1" cy="889.3" r="8.8"/><circle cx="368.0" cy="886.2" r="8.8"/><circle cx="369.5" cy="887.1" r="8.8"/><circle cx="366.6" cy="884.1" r="8.8"/><circle cx="366.7" cy="883.5" r="8.8"/><circle cx="375.6" cy="883.8" r="8.8"/><circle cx="374.2" cy="881.5" r="8.8"/><circle cx="372.2" cy="878.8" r="8.8"/><circle cx="374.7" cy="880.1" r="8.8"/><circle cx="375.6" cy="880.5" r="8.8"/><circle cx="378.8" cy="878.8" r="8.8"/><circle cx="381.8" cy="877.1" r="8.8"/><circle cx="381.6" cy="876.6" r="8.8"/><circle cx="384.5" cy="874.9" r="8.8"/><circle cx="384.1" cy="872.8" r="8.8"/><circle cx="389.3" cy="870.9" r="8.8"/><circle cx="390.3" cy="870.1" r="8.8"/><circle cx="392.6" cy="869.9" r="8.8"/><circle cx="394.4" cy="866.2" r="8.8"/><circle cx="396.0" cy="866.5" r="8.8"/><circle cx="395.6" cy="865.5" r="8.8"/><circle cx="400.0" cy="859.6" r="8.8"/><circle cx="400.8" cy="860.3" r="8.8"/><circle cx="400.8" cy="860.0" r="8.8"/><circle cx="402.4" cy="859.0" r="8.8"/><circle cx="407.3" cy="855.7" r="8.8"/><circle cx="409.2" cy="854.6" r="8.8"/><circle cx="412.2" cy="852.6" r="8.8"/><circle cx="411.3" cy="851.2" r="8.8"/><circle cx="413.9" cy="852.8" r="8.8"/><circle cx="411.4" cy="850.0" r="8.8"/><circle cx="419.9" cy="845.9" r="8.8"/><circle cx="421.5" cy="846.1" r="8.8"/><circle cx="421.7" cy="845.4" r="8.8"/><circle cx="422.4" cy="845.2" r="8.8"/><circle cx="421.5" cy="844.3" r="8.8"/><circle cx="424.0" cy="844.0" r="8.8"/><circle cx="422.4" cy="841.7" r="8.8"/><circle cx="426.1" cy="842.6" r="8.8"/><circle cx="429.8" cy="842.5" r="8.8"/><circle cx="428.3" cy="840.7" r="8.8"/><circle cx="434.6" cy="838.2" r="8.8"/><circle cx="432.6" cy="836.0" r="8.8"/><circle cx="432.2" cy="834.1" r="8.8"/><circle cx="434.1" cy="833.4" r="8.8"/><circle cx="437.8" cy="834.3" r="8.8"/><circle cx="438.3" cy="832.8" r="8.8"/><circle cx="452.6" cy="823.4" r="8.8"/><circle cx="453.3" cy="822.3" r="8.8"/><circle cx="453.5" cy="816.4" r="8.8"/><circle cx="456.0" cy="816.9" r="8.8"/><circle cx="459.5" cy="818.0" r="8.8"/><circle cx="457.1" cy="815.0" r="8.8"/><circle cx="458.3" cy="812.7" r="8.8"/><circle cx="460.8" cy="814.4" r="8.8"/><circle cx="461.5" cy="814.6" r="8.8"/><circle cx="461.0" cy="814.2" r="8.8"/><circle cx="460.6" cy="813.0" r="8.8"/><circle cx="461.0" cy="812.0" r="8.8"/><circle cx="463.2" cy="809.0" r="8.8"/><circle cx="463.3" cy="808.8" r="8.8"/><circle cx="463.4" cy="808.8" r="8.8"/><circle cx="463.2" cy="808.6" r="8.8"/><circle cx="465.3" cy="808.5" r="8.8"/><circle cx="471.2" cy="808.8" r="8.8"/><circle cx="472.0" cy="805.0" r="8.8"/><circle cx="473.8" cy="802.6" r="8.8"/><circle cx="479.4" cy="799.7" r="8.8"/><circle cx="478.6" cy="797.4" r="8.8"/><circle cx="481.1" cy="798.3" r="8.8"/><circle cx="484.3" cy="797.1" r="8.8"/><circle cx="481.1" cy="794.3" r="8.8"/><circle cx="483.2" cy="794.3" r="8.8"/><circle cx="484.3" cy="794.5" r="8.8"/><circle cx="484.0" cy="793.1" r="8.8"/><circle cx="485.8" cy="791.4" r="8.8"/><circle cx="487.6" cy="791.6" r="8.8"/><circle cx="495.2" cy="792.0" r="8.8"/><circle cx="493.3" cy="789.4" r="8.8"/><circle cx="495.3" cy="787.3" r="8.8"/><circle cx="496.4" cy="787.6" r="8.8"/><circle cx="496.0" cy="785.3" r="8.8"/><circle cx="495.6" cy="783.3" r="8.8"/><circle cx="506.0" cy="778.9" r="8.8"/><circle cx="507.3" cy="779.4" r="8.8"/><circle cx="504.1" cy="774.7" r="8.8"/><circle cx="508.4" cy="776.9" r="8.8"/><circle cx="509.7" cy="777.7" r="8.8"/><circle cx="508.1" cy="775.6" r="8.8"/><circle cx="508.4" cy="775.0" r="8.8"/><circle cx="510.2" cy="776.1" r="8.8"/><circle cx="509.3" cy="773.4" r="8.8"/><circle cx="515.1" cy="771.8" r="8.8"/><circle cx="516.1" cy="771.9" r="8.8"/><circle cx="519.0" cy="767.2" r="8.8"/><circle cx="519.4" cy="765.5" r="8.8"/><circle cx="525.0" cy="764.3" r="8.8"/><circle cx="525.6" cy="761.6" r="8.8"/><circle cx="527.8" cy="760.8" r="8.8"/><circle cx="527.2" cy="754.7" r="8.8"/><circle cx="533.3" cy="757.9" r="8.8"/><circle cx="530.8" cy="755.1" r="8.8"/><circle cx="534.2" cy="755.7" r="8.8"/><circle cx="534.9" cy="755.3" r="8.8"/><circle cx="534.1" cy="754.0" r="8.8"/><circle cx="537.0" cy="751.3" r="8.8"/><circle cx="539.0" cy="748.9" r="8.8"/><circle cx="542.0" cy="748.6" r="8.8"/><circle cx="546.8" cy="747.0" r="8.8"/><circle cx="548.0" cy="745.9" r="8.8"/><circle cx="547.1" cy="744.2" r="8.8"/><circle cx="548.8" cy="742.7" r="8.8"/><circle cx="549.2" cy="740.5" r="8.8"/><circle cx="551.7" cy="740.8" r="8.8"/><circle cx="551.2" cy="739.7" r="8.8"/><circle cx="551.0" cy="738.8" r="8.8"/><circle cx="553.7" cy="739.8" r="8.8"/><circle cx="557.4" cy="740.6" r="8.8"/><circle cx="557.2" cy="740.0" r="8.8"/><circle cx="557.7" cy="740.2" r="8.8"/><circle cx="553.4" cy="736.7" r="8.8"/><circle cx="557.1" cy="739.4" r="8.8"/><circle cx="555.2" cy="736.1" r="8.8"/><circle cx="557.2" cy="736.0" r="8.8"/><circle cx="556.9" cy="733.7" r="8.8"/><circle cx="559.6" cy="733.1" r="8.8"/><circle cx="561.3" cy="734.3" r="8.8"/><circle cx="561.7" cy="734.3" r="8.8"/><circle cx="561.6" cy="733.7" r="8.8"/><circle cx="563.9" cy="731.6" r="8.8"/><circle cx="565.7" cy="731.9" r="8.8"/><circle cx="565.4" cy="730.9" r="8.8"/><circle cx="625.3" cy="691.1" r="8.8"/><circle cx="614.7" cy="689.9" r="8.8"/><circle cx="596.6" cy="701.0" r="8.8"/><circle cx="594.8" cy="723.3" r="8.8"/><circle cx="579.6" cy="713.4" r="8.8"/><circle cx="558.4" cy="726.8" r="8.8"/><circle cx="564.3" cy="721.0" r="8.8"/><circle cx="570.2" cy="736.2" r="8.8"/><circle cx="539.7" cy="744.4" r="8.8"/><circle cx="545.5" cy="751.5" r="8.8"/><circle cx="515.1" cy="759.7" r="8.8"/><circle cx="529.1" cy="753.8" r="8.8"/><circle cx="532.6" cy="765.5" r="8.8"/><circle cx="496.3" cy="798.4" r="8.8"/><circle cx="482.2" cy="786.7" r="8.8"/><circle cx="498.6" cy="777.3" r="8.8"/><circle cx="467.0" cy="800.7" r="8.8"/><circle cx="588.0" cy="709.8" r="8.8"/><circle cx="583.9" cy="719.5" r="8.8"/><circle cx="573.6" cy="722.8" r="8.8"/><circle cx="265.8" cy="967.8" r="8.8"/><circle cx="268.1" cy="959.6" r="8.8"/><circle cx="282.2" cy="953.7" r="8.8"/><circle cx="309.2" cy="922.0" r="8.8"/><circle cx="310.4" cy="937.3" r="8.8"/><circle cx="322.1" cy="923.2" r="8.8"/><circle cx="331.5" cy="905.6" r="8.8"/><circle cx="340.9" cy="895.1" r="8.8"/><circle cx="363.1" cy="882.2" r="8.8"/><circle cx="363.1" cy="900.9" r="8.8"/><circle cx="384.2" cy="862.2" r="8.8"/><circle cx="385.4" cy="878.6" r="8.8"/><circle cx="378.4" cy="885.7" r="8.8"/><circle cx="404.2" cy="864.6" r="8.8"/><circle cx="422.9" cy="849.3" r="8.8"/><circle cx="432.3" cy="838.8" r="8.8"/></g>
<line class="dg" x1="171.5" y1="1042.4" x2="712.8" y2="615.1"/>
<line class="ds" x1="171.0" y1="828.2" x2="712.8" y2="828.2"/>
<line class="ds" x1="442.3" y1="1042.4" x2="442.3" y2="615.1"/>
<line class="rd" x1="265.2" y1="964.8" x2="624.1" y2="686.4"/>
<path class="ax" d="M171.5 615.1V1042.4H712.8"/>
<path class="tk" d="M196.1 1042.4v8.6M171.5 1022.8h-8.6M319.2 1042.4v8.6M171.5 925.5h-8.6M442.3 1042.4v8.6M171.5 828.2h-8.6M565.4 1042.4v8.6M171.5 730.9h-8.6M688.5 1042.4v8.6M171.5 633.6h-8.6"/>
<text class="tl" text-anchor="middle" x="196.1" y="1078.0">-0.6</text>
<text class="tl" text-anchor="end" x="155.9" y="1032.6">-0.6</text>
<text class="tl" text-anchor="middle" x="319.2" y="1078.0">-0.3</text>
<text class="tl" text-anchor="end" x="155.9" y="935.3">-0.3</text>
<text class="tl" text-anchor="middle" x="442.3" y="1078.0">0.0</text>
<text class="tl" text-anchor="end" x="155.9" y="838.0">0.0</text>
<text class="tl" text-anchor="middle" x="565.4" y="1078.0">0.3</text>
<text class="tl" text-anchor="end" x="155.9" y="740.7">0.3</text>
<text class="tl" text-anchor="middle" x="688.5" y="1078.0">0.6</text>
<text class="tl" text-anchor="end" x="155.9" y="643.4">0.6</text>
<text class="tt" x="209.0" y="674.4">r = 0.998</text>
<text class="tt" text-anchor="middle" x="442.3" y="1117.8">All participants in SIMPLER and MOS</text>
<text class="tt" text-anchor="middle" transform="translate(55.5 828.2) rotate(-90)">Non-cohabiting participants</text>
<text class="tt" text-anchor="middle" transform="translate(92.0 828.2) rotate(-90)">in SIMPLER and MOS</text>
</g>
<g class="panel">
<text class="lt" x="749.0" y="610.6">e</text>
<g class="pt"><circle cx="1092.3" cy="901.6" r="8.8"/><circle cx="1101.9" cy="892.4" r="8.8"/><circle cx="1103.5" cy="891.7" r="8.8"/><circle cx="1108.9" cy="891.0" r="8.8"/><circle cx="1108.7" cy="888.8" r="8.8"/><circle cx="1110.3" cy="886.3" r="8.8"/><circle cx="1110.1" cy="884.7" r="8.8"/><circle cx="1112.4" cy="884.5" r="8.8"/><circle cx="1112.4" cy="884.5" r="8.8"/><circle cx="1123.7" cy="877.8" r="8.8"/><circle cx="1143.9" cy="861.3" r="8.8"/><circle cx="1144.4" cy="857.9" r="8.8"/><circle cx="1146.6" cy="859.5" r="8.8"/><circle cx="1145.8" cy="858.7" r="8.8"/><circle cx="1148.5" cy="856.0" r="8.8"/><circle cx="1148.9" cy="854.9" r="8.8"/><circle cx="1150.2" cy="854.5" r="8.8"/><circle cx="1152.9" cy="852.4" r="8.8"/><circle cx="1156.4" cy="851.1" r="8.8"/><circle cx="1164.6" cy="845.3" r="8.8"/><circle cx="1205.2" cy="812.4" r="8.8"/><circle cx="1210.2" cy="806.4" r="8.8"/><circle cx="1213.2" cy="805.5" r="8.8"/><circle cx="1215.5" cy="803.8" r="8.8"/><circle cx="1220.8" cy="797.0" r="8.8"/><circle cx="1222.8" cy="798.0" r="8.8"/><circle cx="1224.1" cy="798.1" r="8.8"/><circle cx="1227.0" cy="796.0" r="8.8"/><circle cx="1227.9" cy="793.2" r="8.8"/><circle cx="1229.4" cy="792.0" r="8.8"/><circle cx="1234.0" cy="790.5" r="8.8"/><circle cx="1234.1" cy="789.9" r="8.8"/><circle cx="1072.5" cy="916.4" r="8.8"/><circle cx="1241.5" cy="782.8" r="8.8"/><circle cx="1245.6" cy="779.5" r="8.8"/><circle cx="1268.2" cy="761.7" r="8.8"/><circle cx="1283.8" cy="749.4" r="8.8"/></g>
<line class="dg" x1="913.3" y1="1042.4" x2="1454.6" y2="615.1"/>
<line class="ds" x1="912.8" y1="828.2" x2="1454.6" y2="828.2"/>
<line class="ds" x1="1184.1" y1="1042.4" x2="1184.1" y2="615.1"/>
<line class="rd" x1="1072.5" y1="916.4" x2="1283.8" y2="749.4"/>
<path class="ax" d="M913.3 615.1V1042.4H1454.6"/>
<path class="tk" d="M937.9 1042.4v8.6M913.3 1022.8h-8.6M1061.0 1042.4v8.6M913.3 925.5h-8.6M1184.1 1042.4v8.6M913.3 828.2h-8.6M1307.2 1042.4v8.6M913.3 730.9h-8.6M1430.3 1042.4v8.6M913.3 633.6h-8.6"/>
<text class="tl" text-anchor="middle" x="937.9" y="1078.0">-0.6</text>
<text class="tl" text-anchor="end" x="897.7" y="1032.6">-0.6</text>
<text class="tl" text-anchor="middle" x="1061.0" y="1078.0">-0.3</text>
<text class="tl" text-anchor="end" x="897.7" y="935.3">-0.3</text>
<text class="tl" text-anchor="middle" x="1184.1" y="1078.0">0.0</text>
<text class="tl" text-anchor="end" x="897.7" y="838.0">0.0</text>
<text class="tl" text-anchor="middle" x="1307.2" y="1078.0">0.3</text>
<text class="tl" text-anchor="end" x="897.7" y="740.7">0.3</text>
<text class="tl" text-anchor="middle" x="1430.3" y="1078.0">0.6</text>
<text class="tl" text-anchor="end" x="897.7" y="643.4">0.6</text>
<text class="tt" x="950.8" y="674.4">r = 1.000</text>
<text class="tt" text-anchor="middle" x="1184.1" y="1117.8">Relative abundance + RIN</text>
<text class="tt" text-anchor="middle" transform="translate(797.3 828.2) rotate(-90)">Centered log ratio</text>
<text class="tt" text-anchor="middle" transform="translate(833.8 828.2) rotate(-90)">transformation + RIN</text>
</g>
<g class="panel">
<text class="lt" x="1493.0" y="610.6">f</text>
<g class="pt"><circle cx="1734.5" cy="948.4" r="8.8"/><circle cx="1743.1" cy="942.4" r="8.8"/><circle cx="1743.0" cy="941.7" r="8.8"/><circle cx="1743.6" cy="941.8" r="8.8"/><circle cx="1744.1" cy="940.5" r="8.8"/><circle cx="1744.7" cy="940.6" r="8.8"/><circle cx="1747.3" cy="937.9" r="8.8"/><circle cx="1747.9" cy="937.2" r="8.8"/><circle cx="1749.5" cy="937.1" r="8.8"/><circle cx="1749.7" cy="936.6" r="8.8"/><circle cx="1752.3" cy="934.6" r="8.8"/><circle cx="1751.8" cy="933.9" r="8.8"/><circle cx="1752.0" cy="933.1" r="8.8"/><circle cx="1752.6" cy="933.2" r="8.8"/><circle cx="1755.0" cy="932.1" r="8.8"/><circle cx="1755.3" cy="930.7" r="8.8"/><circle cx="1757.0" cy="931.2" r="8.8"/><circle cx="1761.8" cy="925.5" r="8.8"/><circle cx="1763.4" cy="925.7" r="8.8"/><circle cx="1764.4" cy="926.2" r="8.8"/><circle cx="1764.0" cy="923.0" r="8.8"/><circle cx="1765.3" cy="922.7" r="8.8"/><circle cx="1766.6" cy="923.4" r="8.8"/><circle cx="1766.1" cy="923.0" r="8.8"/><circle cx="1767.3" cy="922.2" r="8.8"/><circle cx="1767.6" cy="921.8" r="8.8"/><circle cx="1769.7" cy="921.2" r="8.8"/><circle cx="1771.6" cy="919.1" r="8.8"/><circle cx="1772.1" cy="918.0" r="8.8"/><circle cx="1772.6" cy="917.8" r="8.8"/><circle cx="1773.6" cy="916.4" r="8.8"/><circle cx="1774.6" cy="916.3" r="8.8"/><circle cx="1774.9" cy="914.6" r="8.8"/><circle cx="1778.3" cy="913.9" r="8.8"/><circle cx="1780.6" cy="911.5" r="8.8"/><circle cx="1782.8" cy="911.1" r="8.8"/><circle cx="1782.7" cy="910.7" r="8.8"/><circle cx="1781.8" cy="909.8" r="8.8"/><circle cx="1783.5" cy="909.9" r="8.8"/><circle cx="1784.7" cy="908.0" r="8.8"/><circle cx="1786.6" cy="906.9" r="8.8"/><circle cx="1795.8" cy="900.3" r="8.8"/><circle cx="1795.5" cy="900.0" r="8.8"/><circle cx="1798.0" cy="898.2" r="8.8"/><circle cx="1798.7" cy="897.6" r="8.8"/><circle cx="1798.3" cy="897.1" r="8.8"/><circle cx="1799.8" cy="896.0" r="8.8"/><circle cx="1802.6" cy="894.6" r="8.8"/><circle cx="1803.4" cy="894.2" r="8.8"/><circle cx="1804.5" cy="892.5" r="8.8"/><circle cx="1804.8" cy="892.5" r="8.8"/><circle cx="1805.4" cy="891.4" r="8.8"/><circle cx="1808.5" cy="887.9" r="8.8"/><circle cx="1809.5" cy="888.2" r="8.8"/><circle cx="1811.4" cy="887.3" r="8.8"/><circle cx="1812.0" cy="886.9" r="8.8"/><circle cx="1813.0" cy="886.6" r="8.8"/><circle cx="1813.9" cy="885.9" r="8.8"/><circle cx="1815.1" cy="885.0" r="8.8"/><circle cx="1815.0" cy="884.7" r="8.8"/><circle cx="1816.1" cy="883.8" r="8.8"/><circle cx="1821.2" cy="879.1" r="8.8"/><circle cx="1823.1" cy="878.2" r="8.8"/><circle cx="1823.4" cy="877.9" r="8.8"/><circle cx="1824.0" cy="878.1" r="8.8"/><circle cx="1823.3" cy="876.8" r="8.8"/><circle cx="1825.2" cy="876.0" r="8.8"/><circle cx="1826.4" cy="874.2" r="8.8"/><circle cx="1827.2" cy="874.2" r="8.8"/><circle cx="1828.0" cy="873.1" r="8.8"/><circle cx="1943.0" cy="782.4" r="8.8"/><circle cx="1943.9" cy="782.1" r="8.8"/><circle cx="1945.7" cy="781.0" r="8.8"/><circle cx="1945.2" cy="780.1" r="8.8"/><circle cx="1949.5" cy="777.6" r="8.8"/><circle cx="1950.2" cy="777.8" r="8.8"/><circle cx="1951.4" cy="776.1" r="8.8"/><circle cx="1951.6" cy="776.1" r="8.8"/><circle cx="1954.5" cy="774.7" r="8.8"/><circle cx="1958.0" cy="771.3" r="8.8"/><circle cx="1960.1" cy="769.8" r="8.8"/><circle cx="1961.2" cy="770.1" r="8.8"/><circle cx="1963.2" cy="767.4" r="8.8"/><circle cx="1963.9" cy="766.9" r="8.8"/><circle cx="1964.3" cy="766.7" r="8.8"/><circle cx="1966.4" cy="765.8" r="8.8"/><circle cx="1966.4" cy="764.9" r="8.8"/><circle cx="1966.4" cy="764.7" r="8.8"/><circle cx="1967.1" cy="764.1" r="8.8"/><circle cx="1968.3" cy="764.0" r="8.8"/><circle cx="1970.3" cy="761.2" r="8.8"/><circle cx="1971.5" cy="761.5" r="8.8"/><circle cx="1971.4" cy="760.9" r="8.8"/><circle cx="1971.3" cy="760.0" r="8.8"/><circle cx="1973.3" cy="759.7" r="8.8"/><circle cx="1974.4" cy="758.7" r="8.8"/><circle cx="1975.5" cy="756.8" r="8.8"/><circle cx="1976.7" cy="756.8" r="8.8"/><circle cx="1976.7" cy="756.8" r="8.8"/><circle cx="1976.6" cy="756.5" r="8.8"/><circle cx="1977.1" cy="755.6" r="8.8"/><circle cx="1978.6" cy="756.6" r="8.8"/><circle cx="1978.3" cy="755.9" r="8.8"/><circle cx="1981.2" cy="753.7" r="8.8"/><circle cx="1982.2" cy="752.9" r="8.8"/><circle cx="1982.6" cy="752.5" r="8.8"/><circle cx="1982.8" cy="752.3" r="8.8"/><circle cx="1982.8" cy="751.6" r="8.8"/><circle cx="1983.3" cy="751.9" r="8.8"/><circle cx="1985.2" cy="749.8" r="8.8"/><circle cx="1985.9" cy="749.0" r="8.8"/><circle cx="1988.9" cy="747.4" r="8.8"/><circle cx="1989.5" cy="746.3" r="8.8"/><circle cx="1990.2" cy="744.8" r="8.8"/><circle cx="1990.9" cy="745.1" r="8.8"/><circle cx="1993.1" cy="744.0" r="8.8"/><circle cx="1993.7" cy="743.1" r="8.8"/><circle cx="1994.9" cy="742.8" r="8.8"/><circle cx="1996.0" cy="741.1" r="8.8"/><circle cx="1995.8" cy="740.9" r="8.8"/><circle cx="1998.7" cy="739.8" r="8.8"/><circle cx="1998.5" cy="739.5" r="8.8"/><circle cx="1998.7" cy="738.4" r="8.8"/><circle cx="2001.1" cy="737.6" r="8.8"/><circle cx="2007.0" cy="732.5" r="8.8"/><circle cx="2008.5" cy="732.1" r="8.8"/><circle cx="2011.3" cy="729.8" r="8.8"/><circle cx="2013.2" cy="728.0" r="8.8"/><circle cx="2016.9" cy="723.4" r="8.8"/><circle cx="2018.6" cy="723.7" r="8.8"/><circle cx="2021.8" cy="721.3" r="8.8"/><circle cx="2022.5" cy="720.8" r="8.8"/><circle cx="2025.2" cy="718.3" r="8.8"/><circle cx="2025.2" cy="717.8" r="8.8"/><circle cx="2026.3" cy="717.2" r="8.8"/><circle cx="2026.5" cy="715.9" r="8.8"/><circle cx="2028.0" cy="715.9" r="8.8"/><circle cx="2028.3" cy="714.9" r="8.8"/><circle cx="2028.9" cy="715.1" r="8.8"/><circle cx="2029.7" cy="714.3" r="8.8"/><circle cx="2031.8" cy="713.9" r="8.8"/><circle cx="2031.6" cy="713.2" r="8.8"/><circle cx="2031.6" cy="713.2" r="8.8"/><circle cx="2032.1" cy="712.9" r="8.8"/><circle cx="2034.2" cy="712.5" r="8.8"/><circle cx="2034.2" cy="710.5" r="8.8"/><circle cx="2035.7" cy="710.2" r="8.8"/><circle cx="2040.3" cy="706.6" r="8.8"/><circle cx="2041.7" cy="705.3" r="8.8"/><circle cx="2046.2" cy="701.8" r="8.8"/><circle cx="1683.0" cy="988.8" r="8.8"/><circle cx="2076.1" cy="678.0" r="8.8"/><circle cx="2071.6" cy="681.6" r="8.8"/></g>
<line class="dg" x1="1615.3" y1="1042.4" x2="2156.6" y2="615.1"/>
<line class="ds" x1="1614.8" y1="828.2" x2="2156.6" y2="828.2"/>
<line class="ds" x1="1886.1" y1="1042.4" x2="1886.1" y2="615.1"/>
<line class="rd" x1="1683.0" y1="988.8" x2="2076.9" y2="677.4"/>
<path class="ax" d="M1615.3 615.1V1042.4H2156.6"/>
<path class="tk" d="M1639.9 1042.4v8.6M1615.3 1022.8h-8.6M1763.0 1042.4v8.6M1615.3 925.5h-8.6M1886.1 1042.4v8.6M1615.3 828.2h-8.6M2009.2 1042.4v8.6M1615.3 730.9h-8.6M2132.3 1042.4v8.6M1615.3 633.6h-8.6"/>
<text class="tl" text-anchor="middle" x="1639.9" y="1078.0">-0.6</text>
<text class="tl" text-anchor="end" x="1599.7" y="1032.6">-0.6</text>
<text class="tl" text-anchor="middle" x="1763.0" y="1078.0">-0.3</text>
<text class="tl" text-anchor="end" x="1599.7" y="935.3">-0.3</text>
<text class="tl" text-anchor="middle" x="1886.1" y="1078.0">0.0</text>
<text class="tl" text-anchor="end" x="1599.7" y="838.0">0.0</text>
<text class="tl" text-anchor="middle" x="2009.2" y="1078.0">0.3</text>
<text class="tl" text-anchor="end" x="1599.7" y="740.7">0.3</text>
<text class="tl" text-anchor="middle" x="2132.3" y="1078.0">0.6</text>
<text class="tl" text-anchor="end" x="1599.7" y="643.4">0.6</text>
<text class="tt" x="1652.8" y="674.4">r = 1.000</text>
<text class="tt" text-anchor="middle" x="1886.1" y="1117.8">No Firth correction</text>
<text class="tt" text-anchor="middle" transform="translate(1535.8 828.2) rotate(-90)">Firth correction</text>
</g>
<g class="panel">
<text class="lt" x="5.5" y="1191.6">g</text>
<g class="pt"><circle cx="290.8" cy="1529.5" r="8.8"/><circle cx="292.2" cy="1528.4" r="8.8"/><circle cx="293.8" cy="1526.8" r="8.8"/><circle cx="297.3" cy="1524.5" r="8.8"/><circle cx="296.9" cy="1523.4" r="8.8"/><circle cx="297.4" cy="1522.6" r="8.8"/><circle cx="299.9" cy="1522.2" r="8.8"/><circle cx="300.5" cy="1522.4" r="8.8"/><circle cx="300.4" cy="1520.7" r="8.8"/><circle cx="301.5" cy="1519.8" r="8.8"/><circle cx="306.3" cy="1516.2" r="8.8"/><circle cx="306.3" cy="1516.0" r="8.8"/><circle cx="310.6" cy="1513.9" r="8.8"/><circle cx="310.8" cy="1513.3" r="8.8"/><circle cx="311.5" cy="1513.5" r="8.8"/><circle cx="311.7" cy="1513.4" r="8.8"/><circle cx="310.7" cy="1512.6" r="8.8"/><circle cx="314.2" cy="1510.9" r="8.8"/><circle cx="313.6" cy="1509.5" r="8.8"/><circle cx="314.6" cy="1510.1" r="8.8"/><circle cx="315.7" cy="1509.7" r="8.8"/><circle cx="315.8" cy="1508.7" r="8.8"/><circle cx="316.4" cy="1507.6" r="8.8"/><circle cx="318.3" cy="1506.9" r="8.8"/><circle cx="320.7" cy="1506.2" r="8.8"/><circle cx="321.8" cy="1504.3" r="8.8"/><circle cx="322.6" cy="1502.9" r="8.8"/><circle cx="323.5" cy="1503.4" r="8.8"/><circle cx="328.0" cy="1500.1" r="8.8"/><circle cx="327.6" cy="1499.2" r="8.8"/><circle cx="330.0" cy="1497.9" r="8.8"/><circle cx="331.7" cy="1497.3" r="8.8"/><circle cx="331.8" cy="1496.8" r="8.8"/><circle cx="332.6" cy="1496.4" r="8.8"/><circle cx="333.6" cy="1495.0" r="8.8"/><circle cx="335.8" cy="1493.3" r="8.8"/><circle cx="335.4" cy="1492.9" r="8.8"/><circle cx="335.9" cy="1492.9" r="8.8"/><circle cx="337.7" cy="1492.9" r="8.8"/><circle cx="338.5" cy="1491.0" r="8.8"/><circle cx="339.1" cy="1490.2" r="8.8"/><circle cx="340.3" cy="1489.6" r="8.8"/><circle cx="340.2" cy="1489.2" r="8.8"/><circle cx="340.9" cy="1489.7" r="8.8"/><circle cx="341.3" cy="1489.6" r="8.8"/><circle cx="343.0" cy="1487.1" r="8.8"/><circle cx="349.8" cy="1483.0" r="8.8"/><circle cx="350.6" cy="1483.1" r="8.8"/><circle cx="350.0" cy="1481.5" r="8.8"/><circle cx="353.1" cy="1480.2" r="8.8"/><circle cx="357.2" cy="1476.7" r="8.8"/><circle cx="358.8" cy="1476.1" r="8.8"/><circle cx="360.2" cy="1475.0" r="8.8"/><circle cx="361.8" cy="1473.6" r="8.8"/><circle cx="364.2" cy="1471.2" r="8.8"/><circle cx="368.9" cy="1467.0" r="8.8"/><circle cx="370.1" cy="1467.8" r="8.8"/><circle cx="370.3" cy="1465.7" r="8.8"/><circle cx="374.2" cy="1463.8" r="8.8"/><circle cx="375.2" cy="1462.9" r="8.8"/><circle cx="374.6" cy="1462.3" r="8.8"/><circle cx="375.1" cy="1462.4" r="8.8"/><circle cx="376.3" cy="1462.4" r="8.8"/><circle cx="375.4" cy="1460.9" r="8.8"/><circle cx="379.5" cy="1459.4" r="8.8"/><circle cx="379.4" cy="1458.8" r="8.8"/><circle cx="380.0" cy="1458.4" r="8.8"/><circle cx="380.4" cy="1457.2" r="8.8"/><circle cx="381.5" cy="1457.5" r="8.8"/><circle cx="383.5" cy="1455.0" r="8.8"/><circle cx="385.0" cy="1455.0" r="8.8"/><circle cx="385.0" cy="1453.8" r="8.8"/><circle cx="386.5" cy="1453.8" r="8.8"/><circle cx="387.2" cy="1453.0" r="8.8"/><circle cx="390.2" cy="1449.1" r="8.8"/><circle cx="399.3" cy="1443.4" r="8.8"/><circle cx="401.8" cy="1441.0" r="8.8"/><circle cx="402.8" cy="1441.2" r="8.8"/><circle cx="407.1" cy="1436.6" r="8.8"/><circle cx="408.8" cy="1435.8" r="8.8"/><circle cx="410.1" cy="1435.0" r="8.8"/><circle cx="412.9" cy="1433.4" r="8.8"/><circle cx="412.8" cy="1433.3" r="8.8"/><circle cx="412.3" cy="1432.7" r="8.8"/><circle cx="412.9" cy="1433.1" r="8.8"/><circle cx="414.1" cy="1431.4" r="8.8"/><circle cx="414.5" cy="1430.5" r="8.8"/><circle cx="416.4" cy="1429.0" r="8.8"/><circle cx="417.0" cy="1428.2" r="8.8"/><circle cx="419.5" cy="1427.4" r="8.8"/><circle cx="420.0" cy="1427.5" r="8.8"/><circle cx="420.9" cy="1425.5" r="8.8"/><circle cx="422.3" cy="1424.8" r="8.8"/><circle cx="422.6" cy="1424.1" r="8.8"/><circle cx="423.8" cy="1423.8" r="8.8"/><circle cx="460.1" cy="1394.1" r="8.8"/><circle cx="469.2" cy="1389.2" r="8.8"/><circle cx="468.7" cy="1388.4" r="8.8"/><circle cx="471.3" cy="1386.6" r="8.8"/><circle cx="471.1" cy="1386.1" r="8.8"/><circle cx="476.3" cy="1382.9" r="8.8"/><circle cx="478.1" cy="1381.0" r="8.8"/><circle cx="478.5" cy="1381.2" r="8.8"/><circle cx="479.7" cy="1379.1" r="8.8"/><circle cx="480.5" cy="1378.9" r="8.8"/><circle cx="481.8" cy="1378.1" r="8.8"/><circle cx="488.1" cy="1372.8" r="8.8"/><circle cx="490.0" cy="1371.7" r="8.8"/><circle cx="490.6" cy="1372.0" r="8.8"/><circle cx="490.3" cy="1370.9" r="8.8"/><circle cx="491.6" cy="1370.1" r="8.8"/><circle cx="492.6" cy="1369.5" r="8.8"/><circle cx="492.5" cy="1368.9" r="8.8"/><circle cx="494.1" cy="1367.4" r="8.8"/><circle cx="495.9" cy="1367.6" r="8.8"/><circle cx="496.3" cy="1367.0" r="8.8"/><circle cx="496.2" cy="1365.6" r="8.8"/><circle cx="496.5" cy="1365.4" r="8.8"/><circle cx="504.8" cy="1360.3" r="8.8"/><circle cx="506.5" cy="1359.2" r="8.8"/><circle cx="507.0" cy="1358.5" r="8.8"/><circle cx="507.2" cy="1358.2" r="8.8"/><circle cx="511.7" cy="1355.4" r="8.8"/><circle cx="513.6" cy="1352.8" r="8.8"/><circle cx="514.3" cy="1353.1" r="8.8"/><circle cx="516.4" cy="1351.4" r="8.8"/><circle cx="516.0" cy="1350.3" r="8.8"/><circle cx="516.9" cy="1350.6" r="8.8"/><circle cx="516.8" cy="1350.4" r="8.8"/><circle cx="517.5" cy="1349.3" r="8.8"/><circle cx="518.6" cy="1348.4" r="8.8"/><circle cx="519.9" cy="1348.1" r="8.8"/><circle cx="519.9" cy="1347.8" r="8.8"/><circle cx="520.4" cy="1347.9" r="8.8"/><circle cx="519.8" cy="1346.8" r="8.8"/><circle cx="522.3" cy="1345.6" r="8.8"/><circle cx="523.9" cy="1345.4" r="8.8"/><circle cx="523.5" cy="1345.0" r="8.8"/><circle cx="526.4" cy="1342.3" r="8.8"/><circle cx="526.6" cy="1342.3" r="8.8"/><circle cx="526.3" cy="1341.6" r="8.8"/><circle cx="528.2" cy="1340.4" r="8.8"/><circle cx="530.6" cy="1339.7" r="8.8"/><circle cx="531.8" cy="1338.5" r="8.8"/><circle cx="533.0" cy="1338.4" r="8.8"/><circle cx="535.7" cy="1335.2" r="8.8"/><circle cx="536.1" cy="1334.9" r="8.8"/><circle cx="535.2" cy="1334.0" r="8.8"/><circle cx="537.0" cy="1334.2" r="8.8"/><circle cx="539.1" cy="1334.0" r="8.8"/><circle cx="538.8" cy="1333.3" r="8.8"/><circle cx="542.5" cy="1329.9" r="8.8"/><circle cx="544.1" cy="1329.5" r="8.8"/><circle cx="548.8" cy="1325.5" r="8.8"/><circle cx="549.1" cy="1325.0" r="8.8"/><circle cx="549.0" cy="1324.6" r="8.8"/><circle cx="549.5" cy="1324.5" r="8.8"/><circle cx="550.6" cy="1324.2" r="8.8"/><circle cx="550.2" cy="1323.4" r="8.8"/><circle cx="551.5" cy="1323.2" r="8.8"/><circle cx="551.9" cy="1322.9" r="8.8"/><circle cx="552.9" cy="1322.6" r="8.8"/><circle cx="553.4" cy="1321.9" r="8.8"/><circle cx="555.6" cy="1319.2" r="8.8"/><circle cx="556.7" cy="1319.8" r="8.8"/><circle cx="557.8" cy="1317.9" r="8.8"/><circle cx="558.4" cy="1316.9" r="8.8"/><circle cx="559.0" cy="1317.2" r="8.8"/><circle cx="559.1" cy="1316.7" r="8.8"/><circle cx="562.5" cy="1314.9" r="8.8"/><circle cx="563.8" cy="1312.3" r="8.8"/><circle cx="565.0" cy="1311.5" r="8.8"/><circle cx="565.4" cy="1311.7" r="8.8"/><circle cx="566.9" cy="1311.8" r="8.8"/><circle cx="568.0" cy="1310.5" r="8.8"/><circle cx="567.2" cy="1309.9" r="8.8"/><circle cx="566.9" cy="1309.6" r="8.8"/><circle cx="568.3" cy="1309.4" r="8.8"/><circle cx="568.8" cy="1308.4" r="8.8"/><circle cx="570.0" cy="1308.6" r="8.8"/><circle cx="569.9" cy="1308.5" r="8.8"/><circle cx="569.9" cy="1308.4" r="8.8"/><circle cx="570.5" cy="1307.6" r="8.8"/><circle cx="575.9" cy="1304.6" r="8.8"/><circle cx="579.4" cy="1300.2" r="8.8"/><circle cx="239.2" cy="1569.8" r="8.8"/><circle cx="632.3" cy="1259.0" r="8.8"/><circle cx="627.8" cy="1262.6" r="8.8"/><circle cx="585.1" cy="1296.3" r="8.8"/><circle cx="590.8" cy="1291.8" r="8.8"/><circle cx="600.3" cy="1284.3" r="8.8"/></g>
<line class="dg" x1="171.5" y1="1623.4" x2="712.8" y2="1196.1"/>
<line class="ds" x1="171.0" y1="1409.2" x2="712.8" y2="1409.2"/>
<line class="ds" x1="442.3" y1="1623.4" x2="442.3" y2="1196.1"/>
<line class="rd" x1="239.2" y1="1569.8" x2="633.1" y2="1258.4"/>
<path class="ax" d="M171.5 1196.1V1623.4H712.8"/>
<path class="tk" d="M196.1 1623.4v8.6M171.5 1603.8h-8.6M319.2 1623.4v8.6M171.5 1506.5h-8.6M442.3 1623.4v8.6M171.5 1409.2h-8.6M565.4 1623.4v8.6M171.5 1311.9h-8.6M688.5 1623.4v8.6M171.5 1214.6h-8.6"/>
<text class="tl" text-anchor="middle" x="196.1" y="1659.0">-0.6</text>
<text class="tl" text-anchor="end" x="155.9" y="1613.6">-0.6</text>
<text class="tl" text-anchor="middle" x="319.2" y="1659.0">-0.3</text>
<text class="tl" text-anchor="end" x="155.9" y="1516.3">-0.3</text>
<text class="tl" text-anchor="middle" x="442.3" y="1659.0">0.0</text>
<text class="tl" text-anchor="end" x="155.9" y="1419.0">0.0</text>
<text class="tl" text-anchor="middle" x="565.4" y="1659.0">0.3</text>
<text class="tl" text-anchor="end" x="155.9" y="1321.7">0.3</text>
<text class="tl" text-anchor="middle" x="688.5" y="1659.0">0.6</text>
<text class="tl" text-anchor="end" x="155.9" y="1224.4">0.6</text>
<text class="tt" x="209.0" y="1255.4">r = 1.000</text>
<text class="tt" text-anchor="middle" x="442.3" y="1698.8">With age^2</text>
<text class="tt" text-anchor="middle" transform="translate(55.5 1409.2) rotate(-90)">Without age^2</text>
</g>
<g class="panel">
<text class="lt" x="747.5" y="1191.6">h</text>
<g class="pt"><circle cx="1032.4" cy="1529.3" r="8.8"/><circle cx="1034.8" cy="1527.2" r="8.8"/><circle cx="1036.4" cy="1526.0" r="8.8"/><circle cx="1037.3" cy="1525.9" r="8.8"/><circle cx="1038.4" cy="1523.6" r="8.8"/><circle cx="1041.8" cy="1522.6" r="8.8"/><circle cx="1042.1" cy="1520.7" r="8.8"/><circle cx="1042.6" cy="1520.5" r="8.8"/><circle cx="1043.1" cy="1520.8" r="8.8"/><circle cx="1044.1" cy="1520.4" r="8.8"/><circle cx="1044.0" cy="1520.1" r="8.8"/><circle cx="1044.3" cy="1519.4" r="8.8"/><circle cx="1044.7" cy="1519.0" r="8.8"/><circle cx="1047.3" cy="1517.2" r="8.8"/><circle cx="1049.9" cy="1514.7" r="8.8"/><circle cx="1052.4" cy="1513.7" r="8.8"/><circle cx="1053.1" cy="1512.7" r="8.8"/><circle cx="1054.7" cy="1512.6" r="8.8"/><circle cx="1058.0" cy="1508.4" r="8.8"/><circle cx="1059.3" cy="1507.7" r="8.8"/><circle cx="1061.5" cy="1506.4" r="8.8"/><circle cx="1063.8" cy="1503.6" r="8.8"/><circle cx="1065.2" cy="1502.8" r="8.8"/><circle cx="1067.2" cy="1503.5" r="8.8"/><circle cx="1067.0" cy="1501.7" r="8.8"/><circle cx="1067.7" cy="1502.2" r="8.8"/><circle cx="1069.1" cy="1499.4" r="8.8"/><circle cx="1068.9" cy="1498.7" r="8.8"/><circle cx="1071.7" cy="1498.4" r="8.8"/><circle cx="1076.9" cy="1493.9" r="8.8"/><circle cx="1077.4" cy="1493.7" r="8.8"/><circle cx="1078.9" cy="1492.1" r="8.8"/><circle cx="1079.2" cy="1491.7" r="8.8"/><circle cx="1080.0" cy="1490.7" r="8.8"/><circle cx="1081.4" cy="1491.0" r="8.8"/><circle cx="1081.6" cy="1489.2" r="8.8"/><circle cx="1083.1" cy="1489.6" r="8.8"/><circle cx="1082.8" cy="1489.1" r="8.8"/><circle cx="1083.0" cy="1488.4" r="8.8"/><circle cx="1084.4" cy="1487.5" r="8.8"/><circle cx="1085.5" cy="1487.8" r="8.8"/><circle cx="1085.9" cy="1487.3" r="8.8"/><circle cx="1090.4" cy="1483.6" r="8.8"/><circle cx="1090.4" cy="1483.3" r="8.8"/><circle cx="1090.2" cy="1482.7" r="8.8"/><circle cx="1095.4" cy="1480.1" r="8.8"/><circle cx="1095.1" cy="1479.3" r="8.8"/><circle cx="1095.6" cy="1478.8" r="8.8"/><circle cx="1096.0" cy="1478.5" r="8.8"/><circle cx="1097.6" cy="1477.3" r="8.8"/><circle cx="1097.2" cy="1476.9" r="8.8"/><circle cx="1098.6" cy="1476.5" r="8.8"/><circle cx="1101.2" cy="1474.2" r="8.8"/><circle cx="1101.6" cy="1474.1" r="8.8"/><circle cx="1101.5" cy="1473.3" r="8.8"/><circle cx="1103.3" cy="1474.3" r="8.8"/><circle cx="1103.8" cy="1471.8" r="8.8"/><circle cx="1105.4" cy="1471.6" r="8.8"/><circle cx="1106.3" cy="1470.9" r="8.8"/><circle cx="1107.3" cy="1470.6" r="8.8"/><circle cx="1107.7" cy="1470.8" r="8.8"/><circle cx="1107.4" cy="1470.1" r="8.8"/><circle cx="1108.0" cy="1469.8" r="8.8"/><circle cx="1110.3" cy="1467.2" r="8.8"/><circle cx="1115.8" cy="1464.1" r="8.8"/><circle cx="1115.6" cy="1462.4" r="8.8"/><circle cx="1117.1" cy="1462.0" r="8.8"/><circle cx="1117.9" cy="1461.7" r="8.8"/><circle cx="1118.8" cy="1461.3" r="8.8"/><circle cx="1119.4" cy="1460.9" r="8.8"/><circle cx="1120.9" cy="1459.9" r="8.8"/><circle cx="1123.9" cy="1457.2" r="8.8"/><circle cx="1126.1" cy="1455.0" r="8.8"/><circle cx="1130.5" cy="1451.7" r="8.8"/><circle cx="1133.4" cy="1450.2" r="8.8"/><circle cx="1141.5" cy="1443.6" r="8.8"/><circle cx="1142.8" cy="1442.7" r="8.8"/><circle cx="1147.0" cy="1439.4" r="8.8"/><circle cx="1146.4" cy="1438.7" r="8.8"/><circle cx="1146.1" cy="1437.6" r="8.8"/><circle cx="1147.7" cy="1438.6" r="8.8"/><circle cx="1147.9" cy="1437.2" r="8.8"/><circle cx="1149.6" cy="1436.3" r="8.8"/><circle cx="1151.4" cy="1435.7" r="8.8"/><circle cx="1153.0" cy="1434.0" r="8.8"/><circle cx="1153.7" cy="1433.4" r="8.8"/><circle cx="1154.7" cy="1432.9" r="8.8"/><circle cx="1154.9" cy="1431.0" r="8.8"/><circle cx="1158.2" cy="1430.9" r="8.8"/><circle cx="1158.0" cy="1429.6" r="8.8"/><circle cx="1158.8" cy="1429.0" r="8.8"/><circle cx="1160.7" cy="1428.1" r="8.8"/><circle cx="1163.1" cy="1425.7" r="8.8"/><circle cx="1164.1" cy="1424.4" r="8.8"/><circle cx="1165.6" cy="1423.7" r="8.8"/><circle cx="1202.5" cy="1394.5" r="8.8"/><circle cx="1204.1" cy="1393.3" r="8.8"/><circle cx="1205.0" cy="1392.7" r="8.8"/><circle cx="1205.6" cy="1392.6" r="8.8"/><circle cx="1209.2" cy="1391.7" r="8.8"/><circle cx="1208.0" cy="1390.3" r="8.8"/><circle cx="1210.8" cy="1389.3" r="8.8"/><circle cx="1210.3" cy="1388.3" r="8.8"/><circle cx="1210.7" cy="1387.4" r="8.8"/><circle cx="1211.8" cy="1387.1" r="8.8"/><circle cx="1212.5" cy="1387.0" r="8.8"/><circle cx="1212.6" cy="1386.8" r="8.8"/><circle cx="1213.4" cy="1386.1" r="8.8"/><circle cx="1214.2" cy="1385.8" r="8.8"/><circle cx="1214.7" cy="1385.4" r="8.8"/><circle cx="1215.3" cy="1385.1" r="8.8"/><circle cx="1218.3" cy="1381.4" r="8.8"/><circle cx="1220.6" cy="1380.4" r="8.8"/><circle cx="1222.4" cy="1378.3" r="8.8"/><circle cx="1223.4" cy="1378.3" r="8.8"/><circle cx="1225.3" cy="1376.5" r="8.8"/><circle cx="1229.0" cy="1373.8" r="8.8"/><circle cx="1229.0" cy="1373.4" r="8.8"/><circle cx="1230.1" cy="1372.3" r="8.8"/><circle cx="1230.6" cy="1372.3" r="8.8"/><circle cx="1234.1" cy="1370.1" r="8.8"/><circle cx="1234.2" cy="1370.1" r="8.8"/><circle cx="1236.6" cy="1366.6" r="8.8"/><circle cx="1238.0" cy="1366.7" r="8.8"/><circle cx="1238.4" cy="1366.4" r="8.8"/><circle cx="1241.1" cy="1363.2" r="8.8"/><circle cx="1242.1" cy="1362.6" r="8.8"/><circle cx="1242.4" cy="1362.8" r="8.8"/><circle cx="1243.3" cy="1362.7" r="8.8"/><circle cx="1242.4" cy="1361.6" r="8.8"/><circle cx="1247.6" cy="1358.7" r="8.8"/><circle cx="1251.6" cy="1355.4" r="8.8"/><circle cx="1253.1" cy="1354.8" r="8.8"/><circle cx="1258.7" cy="1351.1" r="8.8"/><circle cx="1261.9" cy="1348.6" r="8.8"/><circle cx="1261.7" cy="1347.6" r="8.8"/><circle cx="1262.8" cy="1346.7" r="8.8"/><circle cx="1265.9" cy="1344.7" r="8.8"/><circle cx="1266.5" cy="1344.8" r="8.8"/><circle cx="1266.6" cy="1344.9" r="8.8"/><circle cx="1269.3" cy="1342.0" r="8.8"/><circle cx="1276.0" cy="1337.5" r="8.8"/><circle cx="1275.5" cy="1336.4" r="8.8"/><circle cx="1275.5" cy="1336.2" r="8.8"/><circle cx="1276.0" cy="1334.7" r="8.8"/><circle cx="1277.9" cy="1334.5" r="8.8"/><circle cx="1280.2" cy="1333.6" r="8.8"/><circle cx="1280.5" cy="1333.6" r="8.8"/><circle cx="1282.4" cy="1333.7" r="8.8"/><circle cx="1281.9" cy="1332.3" r="8.8"/><circle cx="1283.8" cy="1330.5" r="8.8"/><circle cx="1283.9" cy="1329.7" r="8.8"/><circle cx="1285.3" cy="1328.8" r="8.8"/><circle cx="1286.0" cy="1328.2" r="8.8"/><circle cx="1286.3" cy="1328.3" r="8.8"/><circle cx="1287.3" cy="1327.2" r="8.8"/><circle cx="1287.1" cy="1326.8" r="8.8"/><circle cx="1290.4" cy="1325.8" r="8.8"/><circle cx="1290.8" cy="1325.2" r="8.8"/><circle cx="1291.8" cy="1325.0" r="8.8"/><circle cx="1290.9" cy="1323.7" r="8.8"/><circle cx="1291.1" cy="1323.8" r="8.8"/><circle cx="1292.8" cy="1322.7" r="8.8"/><circle cx="1295.0" cy="1322.3" r="8.8"/><circle cx="1295.3" cy="1321.2" r="8.8"/><circle cx="1295.5" cy="1321.3" r="8.8"/><circle cx="1298.6" cy="1318.6" r="8.8"/><circle cx="1300.3" cy="1317.4" r="8.8"/><circle cx="1300.7" cy="1316.7" r="8.8"/><circle cx="1302.1" cy="1316.1" r="8.8"/><circle cx="1303.0" cy="1314.7" r="8.8"/><circle cx="1303.6" cy="1314.5" r="8.8"/><circle cx="1304.5" cy="1314.2" r="8.8"/><circle cx="1304.5" cy="1314.1" r="8.8"/><circle cx="1309.5" cy="1310.4" r="8.8"/><circle cx="1311.7" cy="1307.8" r="8.8"/><circle cx="1313.0" cy="1307.5" r="8.8"/><circle cx="1312.8" cy="1307.3" r="8.8"/><circle cx="1314.0" cy="1306.8" r="8.8"/><circle cx="1315.3" cy="1306.4" r="8.8"/><circle cx="1315.3" cy="1304.9" r="8.8"/><circle cx="1317.6" cy="1304.4" r="8.8"/><circle cx="1319.2" cy="1302.0" r="8.8"/><circle cx="1319.5" cy="1301.9" r="8.8"/><circle cx="1322.2" cy="1301.1" r="8.8"/><circle cx="981.0" cy="1569.8" r="8.8"/><circle cx="1374.1" cy="1259.0" r="8.8"/><circle cx="1369.6" cy="1262.6" r="8.8"/><circle cx="1326.9" cy="1296.3" r="8.8"/><circle cx="1332.6" cy="1291.8" r="8.8"/><circle cx="1340.8" cy="1285.3" r="8.8"/></g>
<line class="dg" x1="913.3" y1="1623.4" x2="1454.6" y2="1196.1"/>
<line class="ds" x1="912.8" y1="1409.2" x2="1454.6" y2="1409.2"/>
<line class="ds" x1="1184.1" y1="1623.4" x2="1184.1" y2="1196.1"/>
<line class="rd" x1="981.0" y1="1569.8" x2="1374.9" y2="1258.4"/>
<path class="ax" d="M913.3 1196.1V1623.4H1454.6"/>
<path class="tk" d="M937.9 1623.4v8.6M913.3 1603.8h-8.6M1061.0 1623.4v8.6M913.3 1506.5h-8.6M1184.1 1623.4v8.6M913.3 1409.2h-8.6M1307.2 1623.4v8.6M913.3 1311.9h-8.6M1430.3 1623.4v8.6M913.3 1214.6h-8.6"/>
<text class="tl" text-anchor="middle" x="937.9" y="1659.0">-0.6</text>
<text class="tl" text-anchor="end" x="897.7" y="1613.6">-0.6</text>
<text class="tl" text-anchor="middle" x="1061.0" y="1659.0">-0.3</text>
<text class="tl" text-anchor="end" x="897.7" y="1516.3">-0.3</text>
<text class="tl" text-anchor="middle" x="1184.1" y="1659.0">0.0</text>
<text class="tl" text-anchor="end" x="897.7" y="1419.0">0.0</text>
<text class="tl" text-anchor="middle" x="1307.2" y="1659.0">0.3</text>
<text class="tl" text-anchor="end" x="897.7" y="1321.7">0.3</text>
<text class="tl" text-anchor="middle" x="1430.3" y="1659.0">0.6</text>
<text class="tl" text-anchor="end" x="897.7" y="1224.4">0.6</text>
<text class="tt" x="950.8" y="1255.4">r = 1.000</text>
<text class="tt" text-anchor="middle" x="1184.1" y="1698.8">Model adjusted for SCAPIS study sites</text>
<text class="tt" text-anchor="middle" transform="translate(797.3 1409.2) rotate(-90)">SCAPIS stratified by</text>
<text class="tt" text-anchor="middle" transform="translate(833.8 1409.2) rotate(-90)">study site</text>
</g>
<g class="panel">
<text class="lt" x="1494.5" y="1191.6">i</text>
<g class="pt"><circle cx="1725.8" cy="1535.5" r="8.8"/><circle cx="1732.0" cy="1533.5" r="8.8"/><circle cx="1731.2" cy="1532.7" r="8.8"/><circle cx="1731.8" cy="1531.9" r="8.8"/><circle cx="1735.2" cy="1528.4" r="8.8"/><circle cx="1749.7" cy="1517.8" r="8.8"/><circle cx="1750.2" cy="1515.5" r="8.8"/><circle cx="1752.2" cy="1515.2" r="8.8"/><circle cx="1754.0" cy="1513.6" r="8.8"/><circle cx="1757.0" cy="1511.2" r="8.8"/><circle cx="1756.7" cy="1510.6" r="8.8"/><circle cx="1758.4" cy="1510.8" r="8.8"/><circle cx="1760.1" cy="1507.4" r="8.8"/><circle cx="1761.8" cy="1506.9" r="8.8"/><circle cx="1762.8" cy="1506.5" r="8.8"/><circle cx="1763.7" cy="1505.9" r="8.8"/><circle cx="1764.3" cy="1504.8" r="8.8"/><circle cx="1766.1" cy="1502.8" r="8.8"/><circle cx="1773.8" cy="1496.7" r="8.8"/><circle cx="1776.8" cy="1495.1" r="8.8"/><circle cx="1779.4" cy="1492.4" r="8.8"/><circle cx="1780.5" cy="1492.5" r="8.8"/><circle cx="1781.6" cy="1490.2" r="8.8"/><circle cx="1783.1" cy="1490.6" r="8.8"/><circle cx="1786.0" cy="1491.0" r="8.8"/><circle cx="1785.2" cy="1487.3" r="8.8"/><circle cx="1786.9" cy="1487.5" r="8.8"/><circle cx="1788.5" cy="1487.9" r="8.8"/><circle cx="1790.0" cy="1485.4" r="8.8"/><circle cx="1795.6" cy="1481.9" r="8.8"/><circle cx="1794.7" cy="1478.8" r="8.8"/><circle cx="1798.6" cy="1477.8" r="8.8"/><circle cx="1801.1" cy="1478.4" r="8.8"/><circle cx="1801.5" cy="1475.4" r="8.8"/><circle cx="1808.0" cy="1471.4" r="8.8"/><circle cx="1809.8" cy="1467.0" r="8.8"/><circle cx="1813.9" cy="1467.6" r="8.8"/><circle cx="1815.1" cy="1468.3" r="8.8"/><circle cx="1813.3" cy="1466.7" r="8.8"/><circle cx="1814.5" cy="1466.2" r="8.8"/><circle cx="1814.7" cy="1466.2" r="8.8"/><circle cx="1818.5" cy="1465.4" r="8.8"/><circle cx="1816.8" cy="1463.4" r="8.8"/><circle cx="1817.1" cy="1461.6" r="8.8"/><circle cx="1823.0" cy="1461.6" r="8.8"/><circle cx="1820.8" cy="1459.3" r="8.8"/><circle cx="1822.6" cy="1460.2" r="8.8"/><circle cx="1820.5" cy="1458.1" r="8.8"/><circle cx="1825.4" cy="1456.6" r="8.8"/><circle cx="1826.7" cy="1456.4" r="8.8"/><circle cx="1826.6" cy="1454.8" r="8.8"/><circle cx="1827.6" cy="1454.8" r="8.8"/><circle cx="1829.2" cy="1454.9" r="8.8"/><circle cx="1829.1" cy="1453.3" r="8.8"/><circle cx="1833.5" cy="1451.5" r="8.8"/><circle cx="1836.2" cy="1451.0" r="8.8"/><circle cx="1833.5" cy="1448.2" r="8.8"/><circle cx="1838.6" cy="1447.2" r="8.8"/><circle cx="1841.1" cy="1445.6" r="8.8"/><circle cx="1841.3" cy="1444.2" r="8.8"/><circle cx="1843.1" cy="1445.2" r="8.8"/><circle cx="1843.0" cy="1445.0" r="8.8"/><circle cx="1842.5" cy="1444.3" r="8.8"/><circle cx="1843.1" cy="1443.9" r="8.8"/><circle cx="1843.3" cy="1442.9" r="8.8"/><circle cx="1844.7" cy="1440.4" r="8.8"/><circle cx="1847.7" cy="1440.2" r="8.8"/><circle cx="1848.0" cy="1438.7" r="8.8"/><circle cx="1849.0" cy="1437.7" r="8.8"/><circle cx="1853.3" cy="1436.5" r="8.8"/><circle cx="1852.4" cy="1435.5" r="8.8"/><circle cx="1854.8" cy="1435.2" r="8.8"/><circle cx="1855.1" cy="1432.3" r="8.8"/><circle cx="1857.4" cy="1431.3" r="8.8"/><circle cx="1858.1" cy="1431.3" r="8.8"/><circle cx="1859.6" cy="1431.9" r="8.8"/><circle cx="1860.4" cy="1429.4" r="8.8"/><circle cx="1862.6" cy="1428.8" r="8.8"/><circle cx="1863.6" cy="1426.1" r="8.8"/><circle cx="1869.8" cy="1422.3" r="8.8"/><circle cx="1906.2" cy="1392.6" r="8.8"/><circle cx="1907.6" cy="1389.9" r="8.8"/><circle cx="1909.2" cy="1390.5" r="8.8"/><circle cx="1909.7" cy="1389.0" r="8.8"/><circle cx="1912.3" cy="1389.8" r="8.8"/><circle cx="1913.4" cy="1389.4" r="8.8"/><circle cx="1911.9" cy="1386.9" r="8.8"/><circle cx="1912.9" cy="1386.1" r="8.8"/><circle cx="1915.1" cy="1385.6" r="8.8"/><circle cx="1916.9" cy="1384.6" r="8.8"/><circle cx="1917.7" cy="1384.0" r="8.8"/><circle cx="1919.9" cy="1383.4" r="8.8"/><circle cx="1921.8" cy="1379.0" r="8.8"/><circle cx="1922.5" cy="1379.6" r="8.8"/><circle cx="1923.9" cy="1378.7" r="8.8"/><circle cx="1924.3" cy="1378.5" r="8.8"/><circle cx="1924.0" cy="1377.8" r="8.8"/><circle cx="1926.1" cy="1376.9" r="8.8"/><circle cx="1928.4" cy="1374.8" r="8.8"/><circle cx="1930.1" cy="1375.9" r="8.8"/><circle cx="1933.5" cy="1371.1" r="8.8"/><circle cx="1933.0" cy="1369.3" r="8.8"/><circle cx="1939.2" cy="1367.9" r="8.8"/><circle cx="1939.1" cy="1367.4" r="8.8"/><circle cx="1938.8" cy="1366.4" r="8.8"/><circle cx="1940.3" cy="1365.1" r="8.8"/><circle cx="1942.5" cy="1363.8" r="8.8"/><circle cx="1944.5" cy="1365.1" r="8.8"/><circle cx="1943.7" cy="1363.0" r="8.8"/><circle cx="1946.9" cy="1362.6" r="8.8"/><circle cx="1946.7" cy="1362.3" r="8.8"/><circle cx="1950.7" cy="1357.4" r="8.8"/><circle cx="1952.6" cy="1357.0" r="8.8"/><circle cx="1952.3" cy="1355.8" r="8.8"/><circle cx="1951.5" cy="1353.4" r="8.8"/><circle cx="1954.5" cy="1354.1" r="8.8"/><circle cx="1954.9" cy="1353.9" r="8.8"/><circle cx="1956.5" cy="1354.7" r="8.8"/><circle cx="1957.7" cy="1353.4" r="8.8"/><circle cx="1962.2" cy="1350.4" r="8.8"/><circle cx="1965.6" cy="1347.0" r="8.8"/><circle cx="1967.4" cy="1346.3" r="8.8"/><circle cx="1967.9" cy="1345.4" r="8.8"/><circle cx="1971.7" cy="1341.8" r="8.8"/><circle cx="1973.5" cy="1341.4" r="8.8"/><circle cx="1975.6" cy="1340.3" r="8.8"/><circle cx="1976.3" cy="1339.6" r="8.8"/><circle cx="1975.2" cy="1338.2" r="8.8"/><circle cx="1976.6" cy="1337.6" r="8.8"/><circle cx="1976.1" cy="1336.7" r="8.8"/><circle cx="1976.6" cy="1336.3" r="8.8"/><circle cx="1979.6" cy="1335.7" r="8.8"/><circle cx="1981.1" cy="1333.2" r="8.8"/><circle cx="1984.1" cy="1333.6" r="8.8"/><circle cx="1981.3" cy="1331.0" r="8.8"/><circle cx="1982.3" cy="1331.6" r="8.8"/><circle cx="1984.4" cy="1331.8" r="8.8"/><circle cx="1988.6" cy="1329.7" r="8.8"/><circle cx="1992.5" cy="1324.6" r="8.8"/><circle cx="1994.6" cy="1325.8" r="8.8"/><circle cx="1995.4" cy="1323.8" r="8.8"/><circle cx="1994.6" cy="1322.5" r="8.8"/><circle cx="1996.0" cy="1322.2" r="8.8"/><circle cx="1997.7" cy="1321.6" r="8.8"/><circle cx="2000.7" cy="1317.3" r="8.8"/><circle cx="2004.4" cy="1317.0" r="8.8"/><circle cx="2005.8" cy="1314.2" r="8.8"/><circle cx="2011.2" cy="1311.0" r="8.8"/><circle cx="2011.7" cy="1311.0" r="8.8"/><circle cx="2014.7" cy="1307.0" r="8.8"/><circle cx="2022.8" cy="1302.4" r="8.8"/><circle cx="2025.6" cy="1296.4" r="8.8"/><circle cx="2031.9" cy="1294.7" r="8.8"/><circle cx="2034.7" cy="1289.1" r="8.8"/><circle cx="2037.7" cy="1290.7" r="8.8"/><circle cx="2036.8" cy="1289.2" r="8.8"/><circle cx="2038.5" cy="1290.3" r="8.8"/><circle cx="2040.0" cy="1289.3" r="8.8"/><circle cx="2040.8" cy="1286.6" r="8.8"/><circle cx="2040.5" cy="1286.2" r="8.8"/><circle cx="2046.0" cy="1284.5" r="8.8"/><circle cx="2045.5" cy="1281.7" r="8.8"/><circle cx="2047.3" cy="1282.8" r="8.8"/><circle cx="2046.8" cy="1282.0" r="8.8"/><circle cx="2048.4" cy="1280.4" r="8.8"/><circle cx="2048.8" cy="1279.8" r="8.8"/><circle cx="2051.0" cy="1281.2" r="8.8"/><circle cx="2048.3" cy="1278.9" r="8.8"/><circle cx="2051.7" cy="1277.6" r="8.8"/><circle cx="2054.7" cy="1276.5" r="8.8"/><circle cx="1658.4" cy="1589.2" r="8.8"/><circle cx="1691.2" cy="1559.1" r="8.8"/><circle cx="2071.6" cy="1253.5" r="8.8"/><circle cx="2091.2" cy="1247.6" r="8.8"/><circle cx="1746.6" cy="1513.7" r="8.8"/></g>
<line class="dg" x1="1615.3" y1="1623.4" x2="2156.6" y2="1196.1"/>
<line class="ds" x1="1614.8" y1="1409.2" x2="2156.6" y2="1409.2"/>
<line class="ds" x1="1886.1" y1="1623.4" x2="1886.1" y2="1196.1"/>
<line class="rd" x1="1658.4" y1="1589.2" x2="2091.2" y2="1247.0"/>
<path class="ax" d="M1615.3 1196.1V1623.4H2156.6"/>
<path class="tk" d="M1639.9 1623.4v8.6M1615.3 1603.8h-8.6M1763.0 1623.4v8.6M1615.3 1506.5h-8.6M1886.1 1623.4v8.6M1615.3 1409.2h-8.6M2009.2 1623.4v8.6M1615.3 1311.9h-8.6M2132.3 1623.4v8.6M1615.3 1214.6h-8.6"/>
<text class="tl" text-anchor="middle" x="1639.9" y="1659.0">-0.6</text>
<text class="tl" text-anchor="end" x="1599.7" y="1613.6">-0.6</text>
<text class="tl" text-anchor="middle" x="1763.0" y="1659.0">-0.3</text>
<text class="tl" text-anchor="end" x="1599.7" y="1516.3">-0.3</text>
<text class="tl" text-anchor="middle" x="1886.1" y="1659.0">0.0</text>
<text class="tl" text-anchor="end" x="1599.7" y="1419.0">0.0</text>
<text class="tl" text-anchor="middle" x="2009.2" y="1659.0">0.3</text>
<text class="tl" text-anchor="end" x="1599.7" y="1321.7">0.3</text>
<text class="tl" text-anchor="middle" x="2132.3" y="1659.0">0.6</text>
<text class="tl" text-anchor="end" x="1599.7" y="1224.4">0.6</text>
<text class="tt" x="1652.8" y="1255.4">r = 1.000</text>
<text class="tt" text-anchor="middle" x="1886.1" y="1698.8">Main model</text>
<text class="tt" text-anchor="middle" transform="translate(1535.8 1409.2) rotate(-90)">+ BMI</text>
</g>
<g class="panel">
<text class="lt" x="12.5" y="1772.6">j</text>
<g class="pt"><circle cx="291.7" cy="2111.2" r="8.8"/><circle cx="294.3" cy="2108.5" r="8.8"/><circle cx="297.4" cy="2105.0" r="8.8"/><circle cx="297.5" cy="2103.9" r="8.8"/><circle cx="300.1" cy="2102.8" r="8.8"/><circle cx="302.1" cy="2102.0" r="8.8"/><circle cx="303.2" cy="2100.0" r="8.8"/><circle cx="304.7" cy="2100.2" r="8.8"/><circle cx="304.5" cy="2099.2" r="8.8"/><circle cx="305.2" cy="2099.4" r="8.8"/><circle cx="303.3" cy="2096.6" r="8.8"/><circle cx="309.6" cy="2094.0" r="8.8"/><circle cx="311.6" cy="2094.7" r="8.8"/><circle cx="318.3" cy="2089.5" r="8.8"/><circle cx="318.4" cy="2088.7" r="8.8"/><circle cx="321.3" cy="2088.0" r="8.8"/><circle cx="321.5" cy="2086.6" r="8.8"/><circle cx="322.0" cy="2086.3" r="8.8"/><circle cx="320.9" cy="2085.0" r="8.8"/><circle cx="323.1" cy="2085.0" r="8.8"/><circle cx="324.8" cy="2084.2" r="8.8"/><circle cx="326.9" cy="2083.2" r="8.8"/><circle cx="327.8" cy="2082.2" r="8.8"/><circle cx="327.2" cy="2081.3" r="8.8"/><circle cx="330.5" cy="2078.9" r="8.8"/><circle cx="332.7" cy="2075.4" r="8.8"/><circle cx="337.0" cy="2074.3" r="8.8"/><circle cx="341.0" cy="2068.9" r="8.8"/><circle cx="341.8" cy="2069.3" r="8.8"/><circle cx="342.6" cy="2069.0" r="8.8"/><circle cx="345.8" cy="2069.1" r="8.8"/><circle cx="345.3" cy="2068.6" r="8.8"/><circle cx="344.1" cy="2066.9" r="8.8"/><circle cx="344.4" cy="2065.8" r="8.8"/><circle cx="345.8" cy="2066.3" r="8.8"/><circle cx="347.3" cy="2064.3" r="8.8"/><circle cx="350.6" cy="2063.2" r="8.8"/><circle cx="350.6" cy="2063.2" r="8.8"/><circle cx="351.4" cy="2062.9" r="8.8"/><circle cx="350.1" cy="2061.8" r="8.8"/><circle cx="351.4" cy="2061.7" r="8.8"/><circle cx="360.4" cy="2055.3" r="8.8"/><circle cx="361.0" cy="2054.9" r="8.8"/><circle cx="362.0" cy="2052.9" r="8.8"/><circle cx="365.2" cy="2050.7" r="8.8"/><circle cx="367.0" cy="2050.9" r="8.8"/><circle cx="365.2" cy="2049.0" r="8.8"/><circle cx="369.1" cy="2047.8" r="8.8"/><circle cx="370.0" cy="2047.4" r="8.8"/><circle cx="371.4" cy="2044.3" r="8.8"/><circle cx="372.2" cy="2044.3" r="8.8"/><circle cx="373.3" cy="2044.9" r="8.8"/><circle cx="374.2" cy="2043.4" r="8.8"/><circle cx="375.7" cy="2044.3" r="8.8"/><circle cx="375.4" cy="2043.9" r="8.8"/><circle cx="377.8" cy="2044.1" r="8.8"/><circle cx="376.1" cy="2040.9" r="8.8"/><circle cx="381.5" cy="2040.7" r="8.8"/><circle cx="381.6" cy="2037.3" r="8.8"/><circle cx="387.3" cy="2034.8" r="8.8"/><circle cx="387.8" cy="2034.5" r="8.8"/><circle cx="394.7" cy="2028.1" r="8.8"/><circle cx="395.8" cy="2026.6" r="8.8"/><circle cx="395.8" cy="2026.2" r="8.8"/><circle cx="397.6" cy="2023.2" r="8.8"/><circle cx="399.2" cy="2023.8" r="8.8"/><circle cx="400.1" cy="2022.4" r="8.8"/><circle cx="402.1" cy="2022.8" r="8.8"/><circle cx="406.3" cy="2017.7" r="8.8"/><circle cx="407.0" cy="2017.9" r="8.8"/><circle cx="410.4" cy="2016.1" r="8.8"/><circle cx="415.0" cy="2011.9" r="8.8"/><circle cx="416.2" cy="2010.9" r="8.8"/><circle cx="418.5" cy="2008.8" r="8.8"/><circle cx="419.2" cy="2008.0" r="8.8"/><circle cx="420.3" cy="2008.3" r="8.8"/><circle cx="422.1" cy="2007.2" r="8.8"/><circle cx="421.5" cy="2005.7" r="8.8"/><circle cx="424.5" cy="2006.5" r="8.8"/><circle cx="426.4" cy="2003.6" r="8.8"/><circle cx="463.2" cy="1974.3" r="8.8"/><circle cx="466.2" cy="1974.3" r="8.8"/><circle cx="471.0" cy="1971.2" r="8.8"/><circle cx="471.3" cy="1969.9" r="8.8"/><circle cx="472.4" cy="1966.0" r="8.8"/><circle cx="473.3" cy="1965.7" r="8.8"/><circle cx="476.1" cy="1963.9" r="8.8"/><circle cx="475.7" cy="1963.3" r="8.8"/><circle cx="476.8" cy="1961.9" r="8.8"/><circle cx="481.1" cy="1963.0" r="8.8"/><circle cx="479.6" cy="1961.2" r="8.8"/><circle cx="481.2" cy="1960.8" r="8.8"/><circle cx="481.8" cy="1960.9" r="8.8"/><circle cx="481.3" cy="1960.2" r="8.8"/><circle cx="487.5" cy="1954.6" r="8.8"/><circle cx="488.6" cy="1954.0" r="8.8"/><circle cx="491.4" cy="1953.7" r="8.8"/><circle cx="493.0" cy="1950.9" r="8.8"/><circle cx="490.6" cy="1948.7" r="8.8"/><circle cx="495.6" cy="1949.8" r="8.8"/><circle cx="499.5" cy="1947.7" r="8.8"/><circle cx="498.1" cy="1945.6" r="8.8"/><circle cx="499.7" cy="1943.8" r="8.8"/><circle cx="503.1" cy="1941.3" r="8.8"/><circle cx="508.9" cy="1939.4" r="8.8"/><circle cx="507.1" cy="1937.3" r="8.8"/><circle cx="511.0" cy="1937.2" r="8.8"/><circle cx="512.2" cy="1936.7" r="8.8"/><circle cx="517.3" cy="1931.9" r="8.8"/><circle cx="517.5" cy="1931.0" r="8.8"/><circle cx="517.3" cy="1929.8" r="8.8"/><circle cx="518.0" cy="1929.3" r="8.8"/><circle cx="520.2" cy="1928.7" r="8.8"/><circle cx="519.5" cy="1927.7" r="8.8"/><circle cx="521.4" cy="1927.6" r="8.8"/><circle cx="521.5" cy="1926.2" r="8.8"/><circle cx="526.9" cy="1925.6" r="8.8"/><circle cx="527.6" cy="1925.3" r="8.8"/><circle cx="526.2" cy="1922.6" r="8.8"/><circle cx="529.4" cy="1923.6" r="8.8"/><circle cx="528.6" cy="1922.5" r="8.8"/><circle cx="529.0" cy="1921.8" r="8.8"/><circle cx="532.8" cy="1919.4" r="8.8"/><circle cx="533.7" cy="1918.7" r="8.8"/><circle cx="531.8" cy="1917.2" r="8.8"/><circle cx="537.7" cy="1918.9" r="8.8"/><circle cx="534.9" cy="1915.5" r="8.8"/><circle cx="534.0" cy="1914.0" r="8.8"/><circle cx="538.8" cy="1913.9" r="8.8"/><circle cx="540.3" cy="1912.8" r="8.8"/><circle cx="540.3" cy="1911.6" r="8.8"/><circle cx="539.6" cy="1910.3" r="8.8"/><circle cx="542.7" cy="1912.7" r="8.8"/><circle cx="547.0" cy="1907.3" r="8.8"/><circle cx="549.1" cy="1906.1" r="8.8"/><circle cx="548.5" cy="1905.3" r="8.8"/><circle cx="550.6" cy="1904.3" r="8.8"/><circle cx="550.3" cy="1903.8" r="8.8"/><circle cx="556.1" cy="1900.9" r="8.8"/><circle cx="557.0" cy="1899.5" r="8.8"/><circle cx="560.0" cy="1898.2" r="8.8"/><circle cx="562.2" cy="1896.5" r="8.8"/><circle cx="563.3" cy="1894.8" r="8.8"/><circle cx="564.4" cy="1893.9" r="8.8"/><circle cx="567.7" cy="1893.0" r="8.8"/><circle cx="565.3" cy="1890.4" r="8.8"/><circle cx="568.5" cy="1890.6" r="8.8"/><circle cx="570.4" cy="1891.2" r="8.8"/><circle cx="568.6" cy="1888.5" r="8.8"/><circle cx="570.7" cy="1889.9" r="8.8"/><circle cx="571.3" cy="1887.4" r="8.8"/><circle cx="571.9" cy="1887.7" r="8.8"/><circle cx="578.4" cy="1882.2" r="8.8"/><circle cx="582.9" cy="1878.8" r="8.8"/><circle cx="583.7" cy="1879.3" r="8.8"/><circle cx="590.5" cy="1872.9" r="8.8"/><circle cx="590.3" cy="1869.9" r="8.8"/><circle cx="596.1" cy="1872.2" r="8.8"/><circle cx="594.6" cy="1869.7" r="8.8"/><circle cx="594.6" cy="1869.1" r="8.8"/><circle cx="596.7" cy="1869.8" r="8.8"/><circle cx="599.4" cy="1868.2" r="8.8"/><circle cx="596.8" cy="1864.6" r="8.8"/><circle cx="599.8" cy="1866.3" r="8.8"/><circle cx="601.4" cy="1861.0" r="8.8"/><circle cx="603.0" cy="1862.2" r="8.8"/><circle cx="604.4" cy="1861.9" r="8.8"/><circle cx="606.1" cy="1859.9" r="8.8"/><circle cx="608.6" cy="1857.7" r="8.8"/><circle cx="609.3" cy="1856.2" r="8.8"/><circle cx="214.6" cy="2170.2" r="8.8"/><circle cx="247.4" cy="2145.9" r="8.8"/><circle cx="284.3" cy="2120.0" r="8.8"/><circle cx="629.0" cy="1850.1" r="8.8"/><circle cx="647.5" cy="1831.2" r="8.8"/><circle cx="571.5" cy="1894.5" r="8.8"/></g>
<line class="dg" x1="171.5" y1="2204.4" x2="712.8" y2="1777.1"/>
<line class="ds" x1="171.0" y1="1990.2" x2="712.8" y2="1990.2"/>
<line class="ds" x1="442.3" y1="2204.4" x2="442.3" y2="1777.1"/>
<line class="rd" x1="214.6" y1="2170.2" x2="647.5" y2="1828.0"/>
<path class="ax" d="M171.5 1777.1V2204.4H712.8"/>
<path class="tk" d="M196.1 2204.4v8.6M171.5 2184.8h-8.6M319.2 2204.4v8.6M171.5 2087.5h-8.6M442.3 2204.4v8.6M171.5 1990.2h-8.6M565.4 2204.4v8.6M171.5 1892.9h-8.6M688.5 2204.4v8.6M171.5 1795.6h-8.6"/>
<text class="tl" text-anchor="middle" x="196.1" y="2240.0">-0.6</text>
<text class="tl" text-anchor="end" x="155.9" y="2194.6">-0.6</text>
<text class="tl" text-anchor="middle" x="319.2" y="2240.0">-0.3</text>
<text class="tl" text-anchor="end" x="155.9" y="2097.3">-0.3</text>
<text class="tl" text-anchor="middle" x="442.3" y="2240.0">0.0</text>
<text class="tl" text-anchor="end" x="155.9" y="2000.0">0.0</text>
<text class="tl" text-anchor="middle" x="565.4" y="2240.0">0.3</text>
<text class="tl" text-anchor="end" x="155.9" y="1902.7">0.3</text>
<text class="tl" text-anchor="middle" x="688.5" y="2240.0">0.6</text>
<text class="tl" text-anchor="end" x="155.9" y="1805.4">0.6</text>
<text class="tt" x="209.0" y="1836.4">r = 1.000</text>
<text class="tt" text-anchor="middle" x="442.3" y="2279.8">Main model in SCAPIS</text>
<text class="tt" text-anchor="middle" transform="translate(55.5 1990.2) rotate(-90)">+ Alcohol consumption</text>
</g>
<g class="panel">
<text class="lt" x="748.5" y="1772.6">k</text>
<g class="pt"><circle cx="1029.1" cy="2111.0" r="8.8"/><circle cx="1035.1" cy="2107.9" r="8.8"/><circle cx="1035.5" cy="2106.8" r="8.8"/><circle cx="1036.8" cy="2107.3" r="8.8"/><circle cx="1039.5" cy="2107.3" r="8.8"/><circle cx="1042.9" cy="2103.8" r="8.8"/><circle cx="1040.9" cy="2101.9" r="8.8"/><circle cx="1045.5" cy="2098.9" r="8.8"/><circle cx="1046.9" cy="2095.6" r="8.8"/><circle cx="1049.0" cy="2096.9" r="8.8"/><circle cx="1051.7" cy="2093.2" r="8.8"/><circle cx="1051.7" cy="2092.3" r="8.8"/><circle cx="1054.2" cy="2091.0" r="8.8"/><circle cx="1057.0" cy="2091.9" r="8.8"/><circle cx="1058.1" cy="2090.2" r="8.8"/><circle cx="1058.0" cy="2089.7" r="8.8"/><circle cx="1059.4" cy="2090.7" r="8.8"/><circle cx="1059.0" cy="2088.2" r="8.8"/><circle cx="1059.4" cy="2086.8" r="8.8"/><circle cx="1061.4" cy="2088.2" r="8.8"/><circle cx="1058.6" cy="2085.6" r="8.8"/><circle cx="1063.3" cy="2086.3" r="8.8"/><circle cx="1063.2" cy="2086.2" r="8.8"/><circle cx="1063.5" cy="2086.0" r="8.8"/><circle cx="1064.1" cy="2086.5" r="8.8"/><circle cx="1064.6" cy="2083.9" r="8.8"/><circle cx="1066.6" cy="2083.1" r="8.8"/><circle cx="1064.8" cy="2081.3" r="8.8"/><circle cx="1066.8" cy="2081.8" r="8.8"/><circle cx="1070.5" cy="2079.0" r="8.8"/><circle cx="1074.0" cy="2077.7" r="8.8"/><circle cx="1076.7" cy="2077.9" r="8.8"/><circle cx="1075.1" cy="2076.5" r="8.8"/><circle cx="1080.8" cy="2073.5" r="8.8"/><circle cx="1079.0" cy="2071.5" r="8.8"/><circle cx="1080.8" cy="2071.9" r="8.8"/><circle cx="1079.4" cy="2069.7" r="8.8"/><circle cx="1081.6" cy="2069.8" r="8.8"/><circle cx="1083.8" cy="2067.9" r="8.8"/><circle cx="1085.1" cy="2068.0" r="8.8"/><circle cx="1087.0" cy="2066.6" r="8.8"/><circle cx="1086.8" cy="2065.8" r="8.8"/><circle cx="1088.1" cy="2064.3" r="8.8"/><circle cx="1090.5" cy="2065.6" r="8.8"/><circle cx="1095.9" cy="2059.0" r="8.8"/><circle cx="1095.1" cy="2055.5" r="8.8"/><circle cx="1099.2" cy="2057.5" r="8.8"/><circle cx="1107.7" cy="2051.1" r="8.8"/><circle cx="1112.8" cy="2047.9" r="8.8"/><circle cx="1114.5" cy="2048.0" r="8.8"/><circle cx="1112.9" cy="2044.2" r="8.8"/><circle cx="1115.2" cy="2044.5" r="8.8"/><circle cx="1116.9" cy="2042.8" r="8.8"/><circle cx="1115.7" cy="2040.7" r="8.8"/><circle cx="1115.5" cy="2039.6" r="8.8"/><circle cx="1120.1" cy="2042.5" r="8.8"/><circle cx="1119.2" cy="2039.5" r="8.8"/><circle cx="1120.5" cy="2039.3" r="8.8"/><circle cx="1122.6" cy="2038.1" r="8.8"/><circle cx="1128.5" cy="2033.2" r="8.8"/><circle cx="1131.1" cy="2032.1" r="8.8"/><circle cx="1130.2" cy="2029.7" r="8.8"/><circle cx="1133.1" cy="2029.3" r="8.8"/><circle cx="1137.4" cy="2026.5" r="8.8"/><circle cx="1137.1" cy="2025.0" r="8.8"/><circle cx="1137.9" cy="2025.0" r="8.8"/><circle cx="1138.7" cy="2025.2" r="8.8"/><circle cx="1139.0" cy="2025.2" r="8.8"/><circle cx="1139.3" cy="2022.2" r="8.8"/><circle cx="1141.0" cy="2023.3" r="8.8"/><circle cx="1142.3" cy="2023.4" r="8.8"/><circle cx="1145.9" cy="2022.0" r="8.8"/><circle cx="1147.4" cy="2019.9" r="8.8"/><circle cx="1150.0" cy="2019.2" r="8.8"/><circle cx="1148.8" cy="2017.9" r="8.8"/><circle cx="1149.3" cy="2017.2" r="8.8"/><circle cx="1152.3" cy="2019.3" r="8.8"/><circle cx="1150.3" cy="2016.9" r="8.8"/><circle cx="1151.2" cy="2014.9" r="8.8"/><circle cx="1153.1" cy="2014.4" r="8.8"/><circle cx="1155.0" cy="2015.1" r="8.8"/><circle cx="1152.5" cy="2012.7" r="8.8"/><circle cx="1157.9" cy="2012.3" r="8.8"/><circle cx="1163.5" cy="2008.9" r="8.8"/><circle cx="1167.0" cy="2005.8" r="8.8"/><circle cx="1206.8" cy="1975.7" r="8.8"/><circle cx="1214.5" cy="1966.2" r="8.8"/><circle cx="1214.8" cy="1965.8" r="8.8"/><circle cx="1215.0" cy="1965.9" r="8.8"/><circle cx="1215.2" cy="1966.0" r="8.8"/><circle cx="1215.5" cy="1966.0" r="8.8"/><circle cx="1215.5" cy="1963.4" r="8.8"/><circle cx="1219.3" cy="1963.3" r="8.8"/><circle cx="1219.2" cy="1962.7" r="8.8"/><circle cx="1222.3" cy="1960.0" r="8.8"/><circle cx="1222.3" cy="1959.7" r="8.8"/><circle cx="1223.4" cy="1959.4" r="8.8"/><circle cx="1222.8" cy="1957.6" r="8.8"/><circle cx="1224.2" cy="1958.5" r="8.8"/><circle cx="1224.4" cy="1958.0" r="8.8"/><circle cx="1226.7" cy="1956.6" r="8.8"/><circle cx="1229.2" cy="1956.5" r="8.8"/><circle cx="1230.5" cy="1955.2" r="8.8"/><circle cx="1239.0" cy="1948.8" r="8.8"/><circle cx="1238.6" cy="1946.7" r="8.8"/><circle cx="1239.9" cy="1947.5" r="8.8"/><circle cx="1241.4" cy="1947.0" r="8.8"/><circle cx="1239.9" cy="1945.6" r="8.8"/><circle cx="1241.5" cy="1943.8" r="8.8"/><circle cx="1245.3" cy="1945.2" r="8.8"/><circle cx="1241.3" cy="1941.7" r="8.8"/><circle cx="1243.5" cy="1943.2" r="8.8"/><circle cx="1244.1" cy="1942.9" r="8.8"/><circle cx="1245.3" cy="1939.7" r="8.8"/><circle cx="1248.7" cy="1939.0" r="8.8"/><circle cx="1250.3" cy="1939.1" r="8.8"/><circle cx="1247.4" cy="1935.9" r="8.8"/><circle cx="1252.6" cy="1938.1" r="8.8"/><circle cx="1252.6" cy="1936.2" r="8.8"/><circle cx="1255.3" cy="1932.2" r="8.8"/><circle cx="1258.2" cy="1933.7" r="8.8"/><circle cx="1259.9" cy="1930.5" r="8.8"/><circle cx="1263.1" cy="1927.0" r="8.8"/><circle cx="1262.2" cy="1923.8" r="8.8"/><circle cx="1266.4" cy="1926.8" r="8.8"/><circle cx="1266.0" cy="1925.5" r="8.8"/><circle cx="1267.8" cy="1922.8" r="8.8"/><circle cx="1271.3" cy="1921.1" r="8.8"/><circle cx="1273.3" cy="1922.0" r="8.8"/><circle cx="1272.9" cy="1919.2" r="8.8"/><circle cx="1274.0" cy="1918.9" r="8.8"/><circle cx="1276.5" cy="1916.3" r="8.8"/><circle cx="1276.7" cy="1914.8" r="8.8"/><circle cx="1279.5" cy="1912.8" r="8.8"/><circle cx="1281.8" cy="1912.1" r="8.8"/><circle cx="1282.0" cy="1912.2" r="8.8"/><circle cx="1283.9" cy="1913.5" r="8.8"/><circle cx="1283.8" cy="1911.6" r="8.8"/><circle cx="1283.5" cy="1911.2" r="8.8"/><circle cx="1284.5" cy="1911.6" r="8.8"/><circle cx="1284.1" cy="1910.9" r="8.8"/><circle cx="1286.3" cy="1911.0" r="8.8"/><circle cx="1283.4" cy="1908.7" r="8.8"/><circle cx="1284.2" cy="1906.9" r="8.8"/><circle cx="1289.5" cy="1907.6" r="8.8"/><circle cx="1288.7" cy="1906.7" r="8.8"/><circle cx="1289.7" cy="1907.1" r="8.8"/><circle cx="1288.3" cy="1905.3" r="8.8"/><circle cx="1291.6" cy="1904.4" r="8.8"/><circle cx="1292.8" cy="1904.1" r="8.8"/><circle cx="1293.8" cy="1903.9" r="8.8"/><circle cx="1294.5" cy="1902.7" r="8.8"/><circle cx="1296.6" cy="1903.2" r="8.8"/><circle cx="1296.8" cy="1899.7" r="8.8"/><circle cx="1299.8" cy="1900.1" r="8.8"/><circle cx="1300.4" cy="1897.2" r="8.8"/><circle cx="1301.2" cy="1897.4" r="8.8"/><circle cx="1300.2" cy="1896.3" r="8.8"/><circle cx="1302.4" cy="1896.7" r="8.8"/><circle cx="1304.1" cy="1893.3" r="8.8"/><circle cx="1306.6" cy="1895.1" r="8.8"/><circle cx="1305.3" cy="1893.2" r="8.8"/><circle cx="1307.7" cy="1892.9" r="8.8"/><circle cx="1308.6" cy="1891.4" r="8.8"/><circle cx="1311.2" cy="1889.6" r="8.8"/><circle cx="1389.6" cy="1829.6" r="8.8"/><circle cx="1370.6" cy="1856.0" r="8.8"/><circle cx="1341.8" cy="1851.1" r="8.8"/><circle cx="1321.0" cy="1869.5" r="8.8"/><circle cx="1349.2" cy="1868.8" r="8.8"/><circle cx="1336.9" cy="1873.7" r="8.8"/><circle cx="1338.1" cy="1862.7" r="8.8"/><circle cx="1330.8" cy="1878.7" r="8.8"/><circle cx="1313.6" cy="1897.0" r="8.8"/><circle cx="1306.3" cy="1889.7" r="8.8"/><circle cx="1297.7" cy="1897.0" r="8.8"/><circle cx="1292.8" cy="1909.3" r="8.8"/><circle cx="1281.8" cy="1910.5" r="8.8"/><circle cx="1281.8" cy="1920.3" r="8.8"/><circle cx="1270.7" cy="1931.4" r="8.8"/><circle cx="1258.5" cy="1922.8" r="8.8"/><circle cx="1246.8" cy="1931.4" r="8.8"/><circle cx="1252.3" cy="1943.6" r="8.8"/><circle cx="1232.7" cy="1943.6" r="8.8"/><circle cx="1208.2" cy="1974.3" r="8.8"/><circle cx="1204.5" cy="1968.1" r="8.8"/><circle cx="1325.7" cy="1875.0" r="8.8"/><circle cx="1317.4" cy="1883.1" r="8.8"/><circle cx="955.3" cy="2159.2" r="8.8"/><circle cx="988.6" cy="2148.6" r="8.8"/><circle cx="1023.3" cy="2106.6" r="8.8"/><circle cx="1038.0" cy="2100.6" r="8.8"/><circle cx="1042.6" cy="2107.9" r="8.8"/><circle cx="1057.9" cy="2086.6" r="8.8"/><circle cx="1058.6" cy="2099.9" r="8.8"/><circle cx="1074.6" cy="2066.6" r="8.8"/><circle cx="1067.9" cy="2093.3" r="8.8"/><circle cx="1079.9" cy="2082.6" r="8.8"/><circle cx="1078.6" cy="2075.9" r="8.8"/><circle cx="1094.6" cy="2054.6" r="8.8"/><circle cx="1102.6" cy="2049.3" r="8.8"/><circle cx="1099.9" cy="2065.3" r="8.8"/><circle cx="1107.9" cy="2058.6" r="8.8"/><circle cx="1126.6" cy="2029.3" r="8.8"/><circle cx="1119.9" cy="2036.0" r="8.8"/><circle cx="1129.2" cy="2040.0" r="8.8"/><circle cx="1147.9" cy="2020.0" r="8.8"/><circle cx="1163.9" cy="2006.7" r="8.8"/></g>
<line class="dg" x1="913.3" y1="2204.4" x2="1454.6" y2="1777.1"/>
<line class="ds" x1="912.8" y1="1990.2" x2="1454.6" y2="1990.2"/>
<line class="ds" x1="1184.1" y1="2204.4" x2="1184.1" y2="1777.1"/>
<line class="rd" x1="956.0" y1="2171.9" x2="1388.4" y2="1828.4"/>
<path class="ax" d="M913.3 1777.1V2204.4H1454.6"/>
<path class="tk" d="M937.9 2204.4v8.6M913.3 2184.8h-8.6M1061.0 2204.4v8.6M913.3 2087.5h-8.6M1184.1 2204.4v8.6M913.3 1990.2h-8.6M1307.2 2204.4v8.6M913.3 1892.9h-8.6M1430.3 2204.4v8.6M913.3 1795.6h-8.6"/>
<text class="tl" text-anchor="middle" x="937.9" y="2240.0">-0.6</text>
<text class="tl" text-anchor="end" x="897.7" y="2194.6">-0.6</text>
<text class="tl" text-anchor="middle" x="1061.0" y="2240.0">-0.3</text>
<text class="tl" text-anchor="end" x="897.7" y="2097.3">-0.3</text>
<text class="tl" text-anchor="middle" x="1184.1" y="2240.0">0.0</text>
<text class="tl" text-anchor="end" x="897.7" y="2000.0">0.0</text>
<text class="tl" text-anchor="middle" x="1307.2" y="2240.0">0.3</text>
<text class="tl" text-anchor="end" x="897.7" y="1902.7">0.3</text>
<text class="tl" text-anchor="middle" x="1430.3" y="2240.0">0.6</text>
<text class="tl" text-anchor="end" x="897.7" y="1805.4">0.6</text>
<text class="tt" x="950.8" y="1836.4">r = 0.998</text>
<text class="tt" text-anchor="middle" x="1184.1" y="2279.8">Main model in SCAPIS</text>
<text class="tt" text-anchor="middle" transform="translate(797.3 1990.2) rotate(-90)">+ Smoking behavior</text>
</g>
<g class="panel">
<text class="lt" x="1494.5" y="1772.6">l</text>
<g class="pt"><circle cx="1724.2" cy="2115.3" r="8.8"/><circle cx="1727.3" cy="2113.6" r="8.8"/><circle cx="1729.8" cy="2113.9" r="8.8"/><circle cx="1730.3" cy="2114.1" r="8.8"/><circle cx="1733.3" cy="2109.6" r="8.8"/><circle cx="1738.5" cy="2106.0" r="8.8"/><circle cx="1739.5" cy="2106.2" r="8.8"/><circle cx="1742.2" cy="2106.4" r="8.8"/><circle cx="1743.3" cy="2106.1" r="8.8"/><circle cx="1743.7" cy="2102.3" r="8.8"/><circle cx="1743.3" cy="2101.8" r="8.8"/><circle cx="1743.7" cy="2101.5" r="8.8"/><circle cx="1747.1" cy="2102.2" r="8.8"/><circle cx="1744.7" cy="2100.3" r="8.8"/><circle cx="1748.1" cy="2100.2" r="8.8"/><circle cx="1748.8" cy="2098.1" r="8.8"/><circle cx="1749.5" cy="2097.6" r="8.8"/><circle cx="1755.2" cy="2095.0" r="8.8"/><circle cx="1755.3" cy="2094.6" r="8.8"/><circle cx="1758.6" cy="2094.4" r="8.8"/><circle cx="1757.8" cy="2093.1" r="8.8"/><circle cx="1758.8" cy="2093.8" r="8.8"/><circle cx="1760.0" cy="2089.2" r="8.8"/><circle cx="1760.4" cy="2089.5" r="8.8"/><circle cx="1761.0" cy="2087.6" r="8.8"/><circle cx="1761.6" cy="2088.1" r="8.8"/><circle cx="1764.6" cy="2087.3" r="8.8"/><circle cx="1764.8" cy="2085.6" r="8.8"/><circle cx="1765.5" cy="2086.2" r="8.8"/><circle cx="1765.5" cy="2084.6" r="8.8"/><circle cx="1767.8" cy="2083.2" r="8.8"/><circle cx="1770.2" cy="2083.4" r="8.8"/><circle cx="1769.5" cy="2082.4" r="8.8"/><circle cx="1772.5" cy="2079.9" r="8.8"/><circle cx="1773.5" cy="2079.8" r="8.8"/><circle cx="1772.4" cy="2078.6" r="8.8"/><circle cx="1773.6" cy="2076.3" r="8.8"/><circle cx="1777.1" cy="2077.0" r="8.8"/><circle cx="1781.5" cy="2073.5" r="8.8"/><circle cx="1786.1" cy="2072.9" r="8.8"/><circle cx="1784.4" cy="2070.9" r="8.8"/><circle cx="1785.0" cy="2070.8" r="8.8"/><circle cx="1787.3" cy="2071.8" r="8.8"/><circle cx="1785.0" cy="2069.7" r="8.8"/><circle cx="1798.7" cy="2058.3" r="8.8"/><circle cx="1803.0" cy="2057.1" r="8.8"/><circle cx="1803.1" cy="2056.4" r="8.8"/><circle cx="1803.9" cy="2056.7" r="8.8"/><circle cx="1802.8" cy="2054.8" r="8.8"/><circle cx="1807.6" cy="2054.7" r="8.8"/><circle cx="1806.4" cy="2053.7" r="8.8"/><circle cx="1809.2" cy="2047.9" r="8.8"/><circle cx="1811.2" cy="2049.3" r="8.8"/><circle cx="1811.4" cy="2048.5" r="8.8"/><circle cx="1812.9" cy="2048.4" r="8.8"/><circle cx="1814.9" cy="2048.4" r="8.8"/><circle cx="1815.0" cy="2046.5" r="8.8"/><circle cx="1820.1" cy="2041.7" r="8.8"/><circle cx="1825.0" cy="2040.2" r="8.8"/><circle cx="1832.6" cy="2032.0" r="8.8"/><circle cx="1832.6" cy="2030.5" r="8.8"/><circle cx="1835.7" cy="2028.3" r="8.8"/><circle cx="1839.2" cy="2029.8" r="8.8"/><circle cx="1839.9" cy="2028.3" r="8.8"/><circle cx="1847.1" cy="2023.6" r="8.8"/><circle cx="1844.5" cy="2021.3" r="8.8"/><circle cx="1847.3" cy="2019.9" r="8.8"/><circle cx="1849.0" cy="2018.4" r="8.8"/><circle cx="1851.4" cy="2019.1" r="8.8"/><circle cx="1857.8" cy="2014.5" r="8.8"/><circle cx="1857.0" cy="2013.1" r="8.8"/><circle cx="1857.3" cy="2012.8" r="8.8"/><circle cx="1861.8" cy="2010.8" r="8.8"/><circle cx="1861.2" cy="2009.6" r="8.8"/><circle cx="1862.2" cy="2008.1" r="8.8"/><circle cx="1865.1" cy="2006.5" r="8.8"/><circle cx="1866.4" cy="2007.5" r="8.8"/><circle cx="1869.8" cy="2006.5" r="8.8"/><circle cx="1868.2" cy="2004.8" r="8.8"/><circle cx="1869.5" cy="2003.0" r="8.8"/><circle cx="1906.0" cy="1973.5" r="8.8"/><circle cx="1916.7" cy="1967.3" r="8.8"/><circle cx="1916.2" cy="1965.4" r="8.8"/><circle cx="1918.5" cy="1966.0" r="8.8"/><circle cx="1917.2" cy="1963.7" r="8.8"/><circle cx="1917.1" cy="1963.5" r="8.8"/><circle cx="1918.4" cy="1962.9" r="8.8"/><circle cx="1920.9" cy="1961.6" r="8.8"/><circle cx="1921.5" cy="1961.0" r="8.8"/><circle cx="1926.3" cy="1963.7" r="8.8"/><circle cx="1922.3" cy="1960.0" r="8.8"/><circle cx="1923.7" cy="1961.0" r="8.8"/><circle cx="1924.8" cy="1959.4" r="8.8"/><circle cx="1925.7" cy="1959.4" r="8.8"/><circle cx="1927.5" cy="1960.2" r="8.8"/><circle cx="1929.1" cy="1957.2" r="8.8"/><circle cx="1931.4" cy="1953.1" r="8.8"/><circle cx="1933.3" cy="1950.1" r="8.8"/><circle cx="1941.7" cy="1947.4" r="8.8"/><circle cx="1944.7" cy="1945.6" r="8.8"/><circle cx="1943.1" cy="1942.3" r="8.8"/><circle cx="1948.4" cy="1942.7" r="8.8"/><circle cx="1945.1" cy="1939.5" r="8.8"/><circle cx="1948.1" cy="1941.1" r="8.8"/><circle cx="1949.6" cy="1941.7" r="8.8"/><circle cx="1948.3" cy="1939.1" r="8.8"/><circle cx="1947.7" cy="1938.2" r="8.8"/><circle cx="1955.9" cy="1937.8" r="8.8"/><circle cx="1952.9" cy="1934.4" r="8.8"/><circle cx="1956.0" cy="1935.5" r="8.8"/><circle cx="1953.9" cy="1933.7" r="8.8"/><circle cx="1956.5" cy="1935.3" r="8.8"/><circle cx="1958.3" cy="1936.2" r="8.8"/><circle cx="1955.8" cy="1934.1" r="8.8"/><circle cx="1957.4" cy="1932.0" r="8.8"/><circle cx="1959.3" cy="1928.3" r="8.8"/><circle cx="1961.5" cy="1927.3" r="8.8"/><circle cx="1964.7" cy="1926.7" r="8.8"/><circle cx="1966.0" cy="1927.5" r="8.8"/><circle cx="1967.4" cy="1926.9" r="8.8"/><circle cx="1967.5" cy="1926.4" r="8.8"/><circle cx="1969.7" cy="1925.7" r="8.8"/><circle cx="1970.2" cy="1924.2" r="8.8"/><circle cx="1973.2" cy="1926.3" r="8.8"/><circle cx="1972.0" cy="1921.9" r="8.8"/><circle cx="1976.5" cy="1918.8" r="8.8"/><circle cx="1975.7" cy="1914.4" r="8.8"/><circle cx="1979.2" cy="1915.1" r="8.8"/><circle cx="1981.5" cy="1915.7" r="8.8"/><circle cx="1981.5" cy="1913.7" r="8.8"/><circle cx="1986.0" cy="1913.6" r="8.8"/><circle cx="1990.1" cy="1909.1" r="8.8"/><circle cx="1992.0" cy="1910.1" r="8.8"/><circle cx="1988.0" cy="1906.9" r="8.8"/><circle cx="1990.5" cy="1906.5" r="8.8"/><circle cx="1994.3" cy="1906.9" r="8.8"/><circle cx="1994.9" cy="1904.3" r="8.8"/><circle cx="1994.3" cy="1902.8" r="8.8"/><circle cx="1996.0" cy="1902.3" r="8.8"/><circle cx="1997.5" cy="1901.4" r="8.8"/><circle cx="1999.5" cy="1902.2" r="8.8"/><circle cx="2000.6" cy="1900.9" r="8.8"/><circle cx="2000.6" cy="1899.5" r="8.8"/><circle cx="2000.2" cy="1898.2" r="8.8"/><circle cx="2002.6" cy="1899.7" r="8.8"/><circle cx="2003.8" cy="1899.3" r="8.8"/><circle cx="2005.2" cy="1893.8" r="8.8"/><circle cx="2009.6" cy="1894.3" r="8.8"/><circle cx="2014.0" cy="1887.0" r="8.8"/><circle cx="2016.5" cy="1886.6" r="8.8"/><circle cx="2017.9" cy="1884.3" r="8.8"/><circle cx="2017.5" cy="1882.9" r="8.8"/><circle cx="2021.4" cy="1881.8" r="8.8"/><circle cx="2022.3" cy="1881.0" r="8.8"/><circle cx="2026.5" cy="1881.0" r="8.8"/><circle cx="2026.9" cy="1880.2" r="8.8"/><circle cx="2025.5" cy="1878.7" r="8.8"/><circle cx="2025.8" cy="1876.8" r="8.8"/><circle cx="2031.0" cy="1872.9" r="8.8"/><circle cx="2030.4" cy="1871.6" r="8.8"/><circle cx="2035.6" cy="1871.4" r="8.8"/><circle cx="2040.9" cy="1867.4" r="8.8"/><circle cx="2041.4" cy="1865.4" r="8.8"/><circle cx="2043.2" cy="1866.0" r="8.8"/><circle cx="2044.5" cy="1865.1" r="8.8"/><circle cx="2046.2" cy="1865.7" r="8.8"/><circle cx="2045.2" cy="1862.4" r="8.8"/><circle cx="2048.7" cy="1863.7" r="8.8"/><circle cx="2048.6" cy="1860.8" r="8.8"/><circle cx="2052.0" cy="1861.8" r="8.8"/><circle cx="1658.4" cy="2171.9" r="8.8"/><circle cx="1691.2" cy="2146.9" r="8.8"/><circle cx="2072.8" cy="1852.3" r="8.8"/><circle cx="2091.2" cy="1844.2" r="8.8"/><circle cx="2042.0" cy="1858.8" r="8.8"/><circle cx="2050.2" cy="1858.8" r="8.8"/></g>
<line class="dg" x1="1615.3" y1="2204.4" x2="2156.6" y2="1777.1"/>
<line class="ds" x1="1614.8" y1="1990.2" x2="2156.6" y2="1990.2"/>
<line class="ds" x1="1886.1" y1="2204.4" x2="1886.1" y2="1777.1"/>
<line class="rd" x1="1658.4" y1="2170.2" x2="2091.2" y2="1828.0"/>
<path class="ax" d="M1615.3 1777.1V2204.4H2156.6"/>
<path class="tk" d="M1639.9 2204.4v8.6M1615.3 2184.8h-8.6M1763.0 2204.4v8.6M1615.3 2087.5h-8.6M1886.1 2204.4v8.6M1615.3 1990.2h-8.6M2009.2 2204.4v8.6M1615.3 1892.9h-8.6M2132.3 2204.4v8.6M1615.3 1795.6h-8.6"/>
<text class="tl" text-anchor="middle" x="1639.9" y="2240.0">-0.6</text>
<text class="tl" text-anchor="end" x="1599.7" y="2194.6">-0.6</text>
<text class="tl" text-anchor="middle" x="1763.0" y="2240.0">-0.3</text>
<text class="tl" text-anchor="end" x="1599.7" y="2097.3">-0.3</text>
<text class="tl" text-anchor="middle" x="1886.1" y="2240.0">0.0</text>
<text class="tl" text-anchor="end" x="1599.7" y="2000.0">0.0</text>
<text class="tl" text-anchor="middle" x="2009.2" y="2240.0">0.3</text>
<text class="tl" text-anchor="end" x="1599.7" y="1902.7">0.3</text>
<text class="tl" text-anchor="middle" x="2132.3" y="2240.0">0.6</text>
<text class="tl" text-anchor="end" x="1599.7" y="1805.4">0.6</text>
<text class="tt" x="1652.8" y="1836.4">r = 0.999</text>
<text class="tt" text-anchor="middle" x="1886.1" y="2279.8">Main model in SCAPIS</text>
<text class="tt" text-anchor="middle" transform="translate(1535.8 1990.2) rotate(-90)">+ Fiber consumption</text>
</g>
</svg>
</body>
</html>
